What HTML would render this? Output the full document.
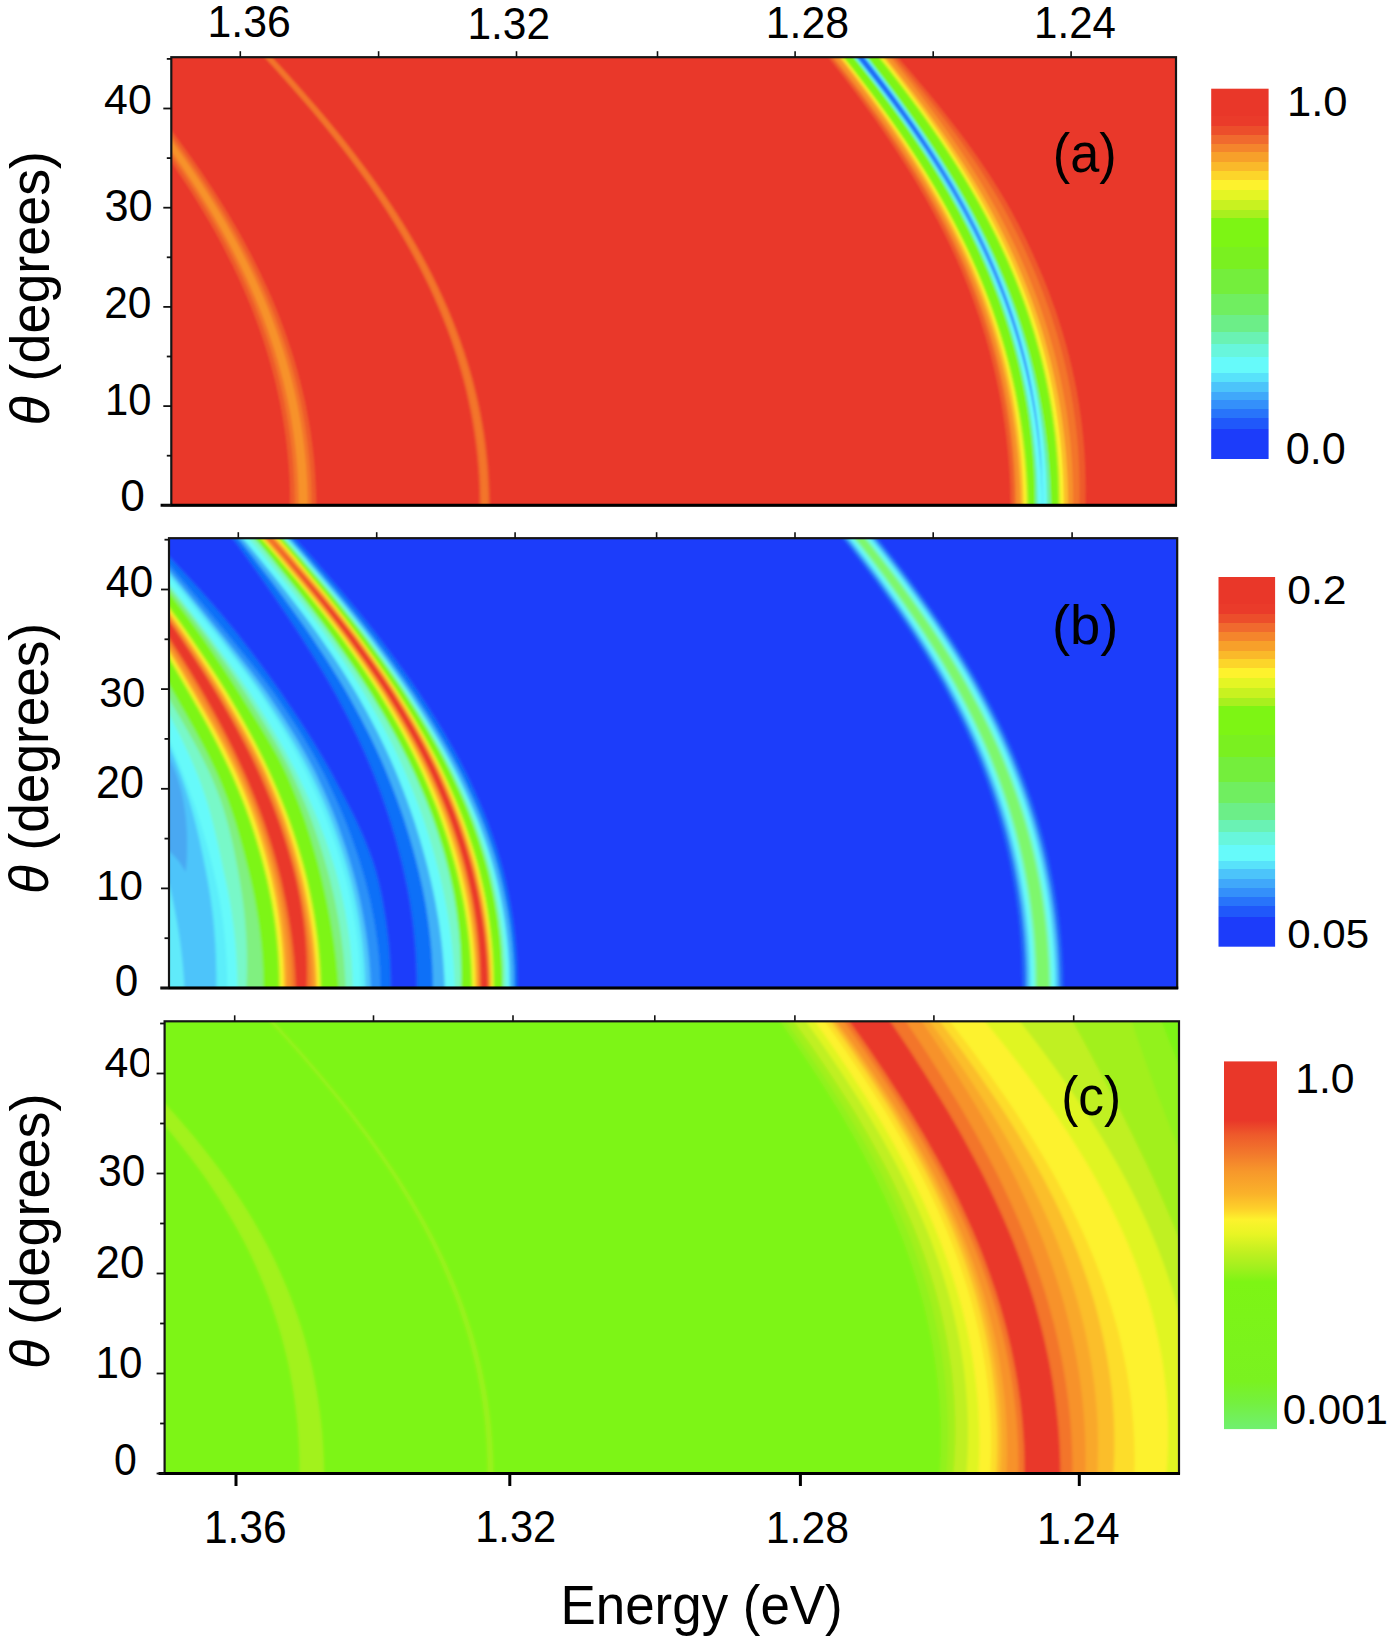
<!DOCTYPE html>
<html><head><meta charset="utf-8"><title>Figure</title><style>html,body{margin:0;padding:0;background:#fff;}svg{display:block;}</style></head><body>
<svg width="1395" height="1645" viewBox="0 0 1395 1645">
<defs><filter id="bl" x="-2%" y="-2%" width="104%" height="104%"><feGaussianBlur stdDeviation="1.2"/></filter><filter id="bl2" x="-2%" y="-2%" width="104%" height="104%"><feGaussianBlur stdDeviation="1.6"/></filter><linearGradient id="cba" x1="0" y1="0" x2="0" y2="1"><stop offset="0.000" stop-color="#E93729"/><stop offset="0.074" stop-color="#E93729"/><stop offset="0.074" stop-color="#EA3B2A"/><stop offset="0.101" stop-color="#EA3B2A"/><stop offset="0.101" stop-color="#EC4E2B"/><stop offset="0.124" stop-color="#EC4E2B"/><stop offset="0.124" stop-color="#F06A2E"/><stop offset="0.148" stop-color="#F06A2E"/><stop offset="0.148" stop-color="#F4852C"/><stop offset="0.172" stop-color="#F4852C"/><stop offset="0.172" stop-color="#F7A02A"/><stop offset="0.199" stop-color="#F7A02A"/><stop offset="0.199" stop-color="#FAB92A"/><stop offset="0.222" stop-color="#FAB92A"/><stop offset="0.222" stop-color="#FCD52A"/><stop offset="0.246" stop-color="#FCD52A"/><stop offset="0.246" stop-color="#FDF22D"/><stop offset="0.273" stop-color="#FDF22D"/><stop offset="0.273" stop-color="#E4F524"/><stop offset="0.300" stop-color="#E4F524"/><stop offset="0.300" stop-color="#C8F220"/><stop offset="0.327" stop-color="#C8F220"/><stop offset="0.327" stop-color="#A8F01E"/><stop offset="0.350" stop-color="#A8F01E"/><stop offset="0.350" stop-color="#7DF514"/><stop offset="0.428" stop-color="#7DF514"/><stop offset="0.428" stop-color="#7AF020"/><stop offset="0.488" stop-color="#7AF020"/><stop offset="0.488" stop-color="#74EE3C"/><stop offset="0.555" stop-color="#74EE3C"/><stop offset="0.555" stop-color="#70EE60"/><stop offset="0.610" stop-color="#70EE60"/><stop offset="0.610" stop-color="#6CEE88"/><stop offset="0.658" stop-color="#6CEE88"/><stop offset="0.658" stop-color="#6AF2B4"/><stop offset="0.690" stop-color="#6AF2B4"/><stop offset="0.690" stop-color="#68F6DC"/><stop offset="0.724" stop-color="#68F6DC"/><stop offset="0.724" stop-color="#66FAFA"/><stop offset="0.767" stop-color="#66FAFA"/><stop offset="0.767" stop-color="#58E2FA"/><stop offset="0.791" stop-color="#58E2FA"/><stop offset="0.791" stop-color="#4CC4FA"/><stop offset="0.818" stop-color="#4CC4FA"/><stop offset="0.818" stop-color="#40A8FA"/><stop offset="0.842" stop-color="#40A8FA"/><stop offset="0.842" stop-color="#3490FA"/><stop offset="0.865" stop-color="#3490FA"/><stop offset="0.865" stop-color="#2874FA"/><stop offset="0.889" stop-color="#2874FA"/><stop offset="0.889" stop-color="#2058FA"/><stop offset="0.919" stop-color="#2058FA"/><stop offset="0.919" stop-color="#1C3CFA"/><stop offset="1.000" stop-color="#1C3CFA"/></linearGradient><linearGradient id="cbb" x1="0" y1="0" x2="0" y2="1"><stop offset="0.000" stop-color="#E93729"/><stop offset="0.074" stop-color="#E93729"/><stop offset="0.074" stop-color="#EA3B2A"/><stop offset="0.101" stop-color="#EA3B2A"/><stop offset="0.101" stop-color="#EC4E2B"/><stop offset="0.124" stop-color="#EC4E2B"/><stop offset="0.124" stop-color="#F06A2E"/><stop offset="0.148" stop-color="#F06A2E"/><stop offset="0.148" stop-color="#F4852C"/><stop offset="0.172" stop-color="#F4852C"/><stop offset="0.172" stop-color="#F7A02A"/><stop offset="0.199" stop-color="#F7A02A"/><stop offset="0.199" stop-color="#FAB92A"/><stop offset="0.222" stop-color="#FAB92A"/><stop offset="0.222" stop-color="#FCD52A"/><stop offset="0.246" stop-color="#FCD52A"/><stop offset="0.246" stop-color="#FDF22D"/><stop offset="0.273" stop-color="#FDF22D"/><stop offset="0.273" stop-color="#E4F524"/><stop offset="0.300" stop-color="#E4F524"/><stop offset="0.300" stop-color="#C8F220"/><stop offset="0.327" stop-color="#C8F220"/><stop offset="0.327" stop-color="#A8F01E"/><stop offset="0.350" stop-color="#A8F01E"/><stop offset="0.350" stop-color="#7DF514"/><stop offset="0.428" stop-color="#7DF514"/><stop offset="0.428" stop-color="#7AF020"/><stop offset="0.488" stop-color="#7AF020"/><stop offset="0.488" stop-color="#74EE3C"/><stop offset="0.555" stop-color="#74EE3C"/><stop offset="0.555" stop-color="#70EE60"/><stop offset="0.610" stop-color="#70EE60"/><stop offset="0.610" stop-color="#6CEE88"/><stop offset="0.658" stop-color="#6CEE88"/><stop offset="0.658" stop-color="#6AF2B4"/><stop offset="0.690" stop-color="#6AF2B4"/><stop offset="0.690" stop-color="#68F6DC"/><stop offset="0.724" stop-color="#68F6DC"/><stop offset="0.724" stop-color="#66FAFA"/><stop offset="0.767" stop-color="#66FAFA"/><stop offset="0.767" stop-color="#58E2FA"/><stop offset="0.791" stop-color="#58E2FA"/><stop offset="0.791" stop-color="#4CC4FA"/><stop offset="0.818" stop-color="#4CC4FA"/><stop offset="0.818" stop-color="#40A8FA"/><stop offset="0.842" stop-color="#40A8FA"/><stop offset="0.842" stop-color="#3490FA"/><stop offset="0.865" stop-color="#3490FA"/><stop offset="0.865" stop-color="#2874FA"/><stop offset="0.889" stop-color="#2874FA"/><stop offset="0.889" stop-color="#2058FA"/><stop offset="0.919" stop-color="#2058FA"/><stop offset="0.919" stop-color="#1C3CFA"/><stop offset="1.000" stop-color="#1C3CFA"/></linearGradient><linearGradient id="cbc" x1="0" y1="0" x2="0" y2="1"><stop offset="0.000" stop-color="#E93729"/><stop offset="0.160" stop-color="#E93729"/><stop offset="0.200" stop-color="#EE5A2B"/><stop offset="0.250" stop-color="#F2782C"/><stop offset="0.300" stop-color="#F7982B"/><stop offset="0.360" stop-color="#FAB22A"/><stop offset="0.400" stop-color="#FDD02A"/><stop offset="0.430" stop-color="#FDF22D"/><stop offset="0.470" stop-color="#E8F524"/><stop offset="0.520" stop-color="#C0F020"/><stop offset="0.560" stop-color="#A2F01E"/><stop offset="0.600" stop-color="#7DF514"/><stop offset="0.870" stop-color="#7AF220"/><stop offset="0.930" stop-color="#74F040"/><stop offset="1.000" stop-color="#70F070"/></linearGradient><clipPath id="c40"><rect x="90" y="1030" width="59" height="60"/></clipPath></defs>
<rect width="1395" height="1645" fill="#fff"/>
<clipPath id="pa"><rect x="171.3" y="57.2" width="1004.7" height="448.1"/></clipPath>
<g clip-path="url(#pa)"><g filter="url(#bl)">
<rect x="151.3" y="37.2" width="1044.7" height="488.1" fill="#E93729"/>
<path d="M80.3,45.2 89.2,55.7 97.9,66.2 106.6,76.7 115.1,87.2 123.5,97.7 131.7,108.1 139.8,118.6 147.7,129.1 155.4,139.6 163,150.1 170.4,160.6 177.5,171.1 184.5,181.6 191.3,192.1 197.9,202.6 204.2,213.1 210.4,223.5 216.3,234 222,244.5 227.4,255 232.7,265.5 237.7,276 242.5,286.5 247,297 251.4,307.5 255.4,318 259.3,328.5 262.9,339 266.3,349.4 269.5,359.9 272.4,370.4 275.1,380.9 277.6,391.4 279.9,401.9 281.9,412.4 283.7,422.9 285.3,433.4 286.7,443.9 287.8,454.4 288.7,464.8 289.4,475.3 289.9,485.8 290.1,496.3 290.2,506.8 290,517.3 316.1,517.3 316.2,506.8 316.1,496.3 315.7,485.8 315.1,475.3 314.4,464.8 313.4,454.4 312.1,443.9 310.7,433.4 309,422.9 307.1,412.4 305,401.9 302.6,391.4 300,380.9 297.2,370.4 294.2,359.9 290.9,349.4 287.4,339 283.7,328.5 279.8,318 275.6,307.5 271.2,297 266.5,286.5 261.6,276 256.5,265.5 251.2,255 245.6,244.5 239.9,234 233.8,223.5 227.6,213.1 221.2,202.6 214.5,192.1 207.6,181.6 200.6,171.1 193.3,160.6 185.8,150.1 178.2,139.6 170.3,129.1 162.3,118.6 154.1,108.1 145.8,97.7 137.4,87.2 128.7,76.7 120,66.2 111.2,55.7 102.2,45.2Z" fill="#EE5A2B"/>
<path d="M84.3,45.2 93.2,55.7 101.9,66.2 110.6,76.7 119.1,87.2 127.5,97.7 135.7,108.1 143.8,118.6 151.8,129.1 159.5,139.6 167.1,150.1 174.5,160.6 181.7,171.1 188.7,181.6 195.4,192.1 202,202.6 208.4,213.1 214.5,223.5 220.5,234 226.2,244.5 231.7,255 236.9,265.5 241.9,276 246.7,286.5 251.3,297 255.6,307.5 259.7,318 263.6,328.5 267.2,339 270.7,349.4 273.8,359.9 276.8,370.4 279.5,380.9 282,391.4 284.3,401.9 286.3,412.4 288.1,422.9 289.7,433.4 291.1,443.9 292.3,454.4 293.2,464.8 293.9,475.3 294.4,485.8 294.6,496.3 294.7,506.8 294.5,517.3 311.6,517.3 311.7,506.8 311.6,496.3 311.2,485.8 310.7,475.3 309.9,464.8 308.9,454.4 307.7,443.9 306.2,433.4 304.6,422.9 302.7,412.4 300.6,401.9 298.2,391.4 295.7,380.9 292.9,370.4 289.9,359.9 286.6,349.4 283.1,339 279.4,328.5 275.5,318 271.3,307.5 266.9,297 262.3,286.5 257.4,276 252.3,265.5 247,255 241.4,244.5 235.7,234 229.7,223.5 223.4,213.1 217,202.6 210.4,192.1 203.5,181.6 196.4,171.1 189.2,160.6 181.7,150.1 174.1,139.6 166.2,129.1 158.2,118.6 150.1,108.1 141.8,97.7 133.3,87.2 124.7,76.7 116,66.2 107.2,55.7 98.2,45.2Z" fill="#F3752C"/>
<path d="M87.5,45.2 96.4,55.7 105.2,66.2 113.8,76.7 122.4,87.2 130.8,97.7 139,108.1 147.1,118.6 155.1,129.1 162.9,139.6 170.5,150.1 177.9,160.6 185.1,171.1 192.1,181.6 198.9,192.1 205.5,202.6 211.9,213.1 218,223.5 224,234 229.7,244.5 235.2,255 240.5,265.5 245.5,276 250.3,286.5 254.9,297 259.3,307.5 263.4,318 267.3,328.5 270.9,339 274.4,349.4 277.6,359.9 280.5,370.4 283.3,380.9 285.8,391.4 288.1,401.9 290.2,412.4 292,422.9 293.6,433.4 295,443.9 296.2,454.4 297.1,464.8 297.8,475.3 298.3,485.8 298.6,496.3 298.7,506.8 298.5,517.3 307.6,517.3 307.7,506.8 307.6,496.3 307.3,485.8 306.7,475.3 306,464.8 305,454.4 303.8,443.9 302.4,433.4 300.7,422.9 298.9,412.4 296.8,401.9 294.4,391.4 291.9,380.9 289.1,370.4 286.1,359.9 282.9,349.4 279.4,339 275.7,328.5 271.8,318 267.7,307.5 263.3,297 258.7,286.5 253.8,276 248.7,265.5 243.4,255 237.9,244.5 232.1,234 226.2,223.5 220,213.1 213.5,202.6 206.9,192.1 200.1,181.6 193,171.1 185.8,160.6 178.3,150.1 170.7,139.6 162.9,129.1 154.9,118.6 146.8,108.1 138.5,97.7 130.1,87.2 121.5,76.7 112.8,66.2 104,55.7 95.1,45.2Z" fill="#F7922B"/>
<path d="M252.8,45.2 262.5,55.7 272.1,66.2 281.5,76.7 290.8,87.2 300,97.7 308.9,108.1 317.7,118.6 326.3,129.1 334.7,139.6 342.9,150.1 350.9,160.6 358.6,171.1 366.2,181.6 373.5,192.1 380.6,202.6 387.4,213.1 394,223.5 400.4,234 406.5,244.5 412.3,255 417.9,265.5 423.3,276 428.4,286.5 433.2,297 437.8,307.5 442.2,318 446.3,328.5 450.2,339 453.8,349.4 457.1,359.9 460.2,370.4 463.1,380.9 465.8,391.4 468.1,401.9 470.3,412.4 472.2,422.9 473.9,433.4 475.3,443.9 476.6,454.4 477.5,464.8 478.3,475.3 478.8,485.8 479.1,496.3 479.2,506.8 479,517.3 490,517.3 490.2,506.8 490.1,496.3 489.7,485.8 489.2,475.3 488.4,464.8 487.3,454.4 486.1,443.9 484.6,433.4 482.8,422.9 480.9,412.4 478.7,401.9 476.2,391.4 473.6,380.9 470.6,370.4 467.5,359.9 464.1,349.4 460.4,339 456.5,328.5 452.4,318 448,307.5 443.3,297 438.4,286.5 433.3,276 427.9,265.5 422.2,255 416.3,244.5 410.1,234 403.7,223.5 397.1,213.1 390.2,202.6 383.1,192.1 375.7,181.6 368.2,171.1 360.3,160.6 352.3,150.1 344.1,139.6 335.6,129.1 327,118.6 318.1,108.1 309.1,97.7 300,87.2 290.6,76.7 281.1,66.2 271.5,55.7 261.8,45.2Z" fill="#EE5A2B"/>
<path d="M254.3,45.2 264,55.7 273.6,66.2 283.1,76.7 292.4,87.2 301.5,97.7 310.5,108.1 319.3,118.6 327.9,129.1 336.3,139.6 344.5,150.1 352.5,160.6 360.3,171.1 367.8,181.6 375.1,192.1 382.2,202.6 389.1,213.1 395.7,223.5 402.1,234 408.2,244.5 414,255 419.7,265.5 425,276 430.1,286.5 435,297 439.6,307.5 444,318 448.1,328.5 452,339 455.6,349.4 459,359.9 462.1,370.4 465,380.9 467.6,391.4 470,401.9 472.2,412.4 474.1,422.9 475.8,433.4 477.3,443.9 478.5,454.4 479.5,464.8 480.3,475.3 480.8,485.8 481.1,496.3 481.2,506.8 481,517.3 488,517.3 488.2,506.8 488.1,496.3 487.7,485.8 487.2,475.3 486.4,464.8 485.4,454.4 484.1,443.9 482.7,433.4 480.9,422.9 479,412.4 476.8,401.9 474.4,391.4 471.7,380.9 468.8,370.4 465.6,359.9 462.2,349.4 458.6,339 454.7,328.5 450.6,318 446.2,307.5 441.5,297 436.7,286.5 431.5,276 426.1,265.5 420.5,255 414.6,244.5 408.4,234 402.1,223.5 395.4,213.1 388.6,202.6 381.4,192.1 374.1,181.6 366.5,171.1 358.7,160.6 350.7,150.1 342.5,139.6 334,129.1 325.4,118.6 316.6,108.1 307.6,97.7 298.4,87.2 289.1,76.7 279.6,66.2 270,55.7 260.3,45.2Z" fill="#F3752C"/>
<path d="M818.8,45.2 825.3,53.2 831.6,61.2 837.9,69.2 844.1,77.2 850.2,85.2 856.2,93.2 862.1,101.2 867.9,109.2 873.7,117.2 879.3,125.2 884.8,133.2 890.2,141.2 895.5,149.2 900.7,157.2 905.8,165.2 910.8,173.2 915.7,181.2 920.4,189.2 925,197.2 929.5,205.2 933.9,213.2 938.1,221.2 942.2,229.2 946.2,237.2 950.1,245.2 953.9,253.2 957.5,261.2 961,269.2 964.3,277.2 967.6,285.3 970.7,293.3 973.7,301.3 976.5,309.3 979.3,317.3 981.9,325.3 984.4,333.3 986.8,341.3 989.1,349.3 991.2,357.3 993.2,365.3 995.1,373.3 996.9,381.3 998.6,389.3 1000.2,397.3 1001.7,405.3 1003,413.3 1004.2,421.3 1005.4,429.3 1006.4,437.3 1007.3,445.3 1008.1,453.3 1008.8,461.3 1009.4,469.3 1009.9,477.3 1010.3,485.3 1010.5,493.3 1010.7,501.3 1010.8,509.3 1010.6,517.3 1085.1,517.3 1085.3,509.3 1085.4,501.3 1085.5,493.3 1085.5,485.3 1085.4,477.3 1085.2,469.3 1084.8,461.3 1084.4,453.3 1083.8,445.3 1083.1,437.3 1082.2,429.3 1081.3,421.3 1080.2,413.3 1079,405.3 1077.7,397.3 1076.3,389.3 1074.7,381.3 1073,373.3 1071.2,365.3 1069.3,357.3 1067.2,349.3 1065,341.3 1062.7,333.3 1060.2,325.3 1057.7,317.3 1055,309.3 1052.1,301.3 1049.2,293.3 1046.1,285.3 1042.9,277.2 1039.5,269.2 1036,261.2 1032.4,253.2 1028.7,245.2 1024.8,237.2 1020.8,229.2 1016.7,221.2 1012.4,213.2 1007.9,205.2 1003.3,197.2 998.4,189.2 993.4,181.2 988.3,173.2 982.9,165.2 977.4,157.2 971.8,149.2 966,141.2 960,133.2 953.9,125.2 947.7,117.2 941.4,109.2 935,101.2 928.4,93.2 921.7,85.2 915,77.2 908.2,69.2 901.2,61.2 894.6,53.2 888.1,45.2Z" fill="#EE5A2B"/>
<path d="M821.8,45.2 828.3,53.2 834.6,61.2 840.9,69.2 847.2,77.2 853.3,85.2 859.4,93.2 865.3,101.2 871.2,109.2 877,117.2 882.7,125.2 888.2,133.2 893.7,141.2 899,149.2 904.2,157.2 909.3,165.2 914.3,173.2 919.2,181.2 924,189.2 928.6,197.2 933.1,205.2 937.5,213.2 941.7,221.2 945.8,229.2 949.8,237.2 953.7,245.2 957.5,253.2 961.1,261.2 964.6,269.2 967.9,277.2 971.2,285.3 974.3,293.3 977.3,301.3 980.2,309.3 982.9,317.3 985.5,325.3 988.1,333.3 990.4,341.3 992.7,349.3 994.9,357.3 996.9,365.3 998.8,373.3 1000.6,381.3 1002.3,389.3 1003.8,397.3 1005.3,405.3 1006.6,413.3 1007.9,421.3 1009,429.3 1010,437.3 1010.9,445.3 1011.7,453.3 1012.4,461.3 1013,469.3 1013.4,477.3 1013.8,485.3 1014.1,493.3 1014.2,501.3 1014.3,509.3 1014.1,517.3 1079.1,517.3 1079.3,509.3 1079.4,501.3 1079.5,493.3 1079.5,485.3 1079.4,477.3 1079.2,469.3 1078.8,461.3 1078.4,453.3 1077.8,445.3 1077.1,437.3 1076.2,429.3 1075.3,421.3 1074.2,413.3 1073,405.3 1071.7,397.3 1070.3,389.3 1068.7,381.3 1067,373.3 1065.2,365.3 1063.3,357.3 1061.2,349.3 1059,341.3 1056.7,333.3 1054.2,325.3 1051.7,317.3 1049,309.3 1046.1,301.3 1043.2,293.3 1040.1,285.3 1036.9,277.2 1033.5,269.2 1030,261.2 1026.4,253.2 1022.7,245.2 1018.8,237.2 1014.8,229.2 1010.7,221.2 1006.4,213.2 1002,205.2 997.4,197.2 992.6,189.2 987.6,181.2 982.5,173.2 977.3,165.2 971.9,157.2 966.3,149.2 960.7,141.2 954.8,133.2 948.9,125.2 942.8,117.2 936.6,109.2 930.3,101.2 923.9,93.2 917.4,85.2 910.8,77.2 904.1,69.2 897.4,61.2 890.8,53.2 884.3,45.2Z" fill="#F3752C"/>
<path d="M824.3,45.2 830.8,53.2 837.1,61.2 843.4,69.2 849.7,77.2 855.8,85.2 861.9,93.2 867.8,101.2 873.7,109.2 879.5,117.2 885.2,125.2 890.7,133.2 896.2,141.2 901.5,149.2 906.7,157.2 911.8,165.2 916.8,173.2 921.7,181.2 926.5,189.2 931.1,197.2 935.6,205.2 940,213.2 944.2,221.2 948.3,229.2 952.3,237.2 956.2,245.2 959.9,253.2 963.6,261.2 967.1,269.2 970.4,277.2 973.7,285.3 976.8,293.3 979.8,301.3 982.6,309.3 985.4,317.3 988,325.3 990.5,333.3 992.8,341.3 995.1,349.3 997.2,357.3 999.2,365.3 1001.1,373.3 1002.9,381.3 1004.6,389.3 1006.1,397.3 1007.6,405.3 1008.9,413.3 1010.1,421.3 1011.2,429.3 1012.2,437.3 1013.1,445.3 1013.9,453.3 1014.5,461.3 1015.1,469.3 1015.5,477.3 1015.9,485.3 1016.1,493.3 1016.2,501.3 1016.3,509.3 1016.1,517.3 1072.9,517.3 1073.1,509.3 1073.1,501.3 1073.1,493.3 1073,485.3 1072.7,477.3 1072.4,469.3 1071.9,461.3 1071.3,453.3 1070.7,445.3 1069.9,437.3 1068.9,429.3 1067.9,421.3 1066.8,413.3 1065.5,405.3 1064.1,397.3 1062.6,389.3 1061,381.3 1059.3,373.3 1057.4,365.3 1055.5,357.3 1053.4,349.3 1051.1,341.3 1048.8,333.3 1046.3,325.3 1043.7,317.3 1041,309.3 1038.2,301.3 1035.2,293.3 1032.1,285.3 1028.9,277.2 1025.5,269.2 1022,261.2 1018.4,253.2 1014.7,245.2 1010.8,237.2 1006.8,229.2 1002.7,221.2 998.5,213.2 994.1,205.2 989.5,197.2 984.9,189.2 980.1,181.2 975.1,173.2 970.1,165.2 964.9,157.2 959.6,149.2 954.1,141.2 948.6,133.2 942.9,125.2 937.1,117.2 931.2,109.2 925.2,101.2 919.2,93.2 913,85.2 906.7,77.2 900.3,69.2 893.9,61.2 887.5,53.2 881,45.2Z" fill="#F7922B"/>
<path d="M829.3,45.2 835.8,53.2 842.1,61.2 848.3,69.2 854.4,77.2 860.4,85.2 866.4,93.2 872.2,101.2 878,109.2 883.7,117.2 889.3,125.2 894.7,133.2 900.1,141.2 905.4,149.2 910.5,157.2 915.6,165.2 920.5,173.2 925.3,181.2 930,189.2 934.6,197.2 939.1,205.2 943.5,213.2 947.7,221.2 951.8,229.2 955.8,237.2 959.7,245.2 963.4,253.2 967.1,261.2 970.6,269.2 973.9,277.2 977.2,285.3 980.3,293.3 983.3,301.3 986.1,309.3 988.9,317.3 991.5,325.3 994,333.3 996.4,341.3 998.6,349.3 1000.8,357.3 1002.8,365.3 1004.7,373.3 1006.6,381.3 1008.2,389.3 1009.8,397.3 1011.3,405.3 1012.7,413.3 1013.9,421.3 1015.1,429.3 1016.1,437.3 1017,445.3 1017.9,453.3 1018.6,461.3 1019.2,469.3 1019.7,477.3 1020.2,485.3 1020.5,493.3 1020.7,501.3 1020.8,509.3 1020.6,517.3 1067.9,517.3 1068.1,509.3 1068.1,501.3 1068,493.3 1067.8,485.3 1067.5,477.3 1067,469.3 1066.5,461.3 1065.9,453.3 1065.1,445.3 1064.3,437.3 1063.3,429.3 1062.3,421.3 1061.1,413.3 1059.8,405.3 1058.4,397.3 1056.8,389.3 1055.2,381.3 1053.4,373.3 1051.6,365.3 1049.6,357.3 1047.4,349.3 1045.2,341.3 1042.9,333.3 1040.4,325.3 1037.8,317.3 1035,309.3 1032.2,301.3 1029.2,293.3 1026.1,285.3 1022.9,277.2 1019.5,269.2 1016.1,261.2 1012.4,253.2 1008.7,245.2 1004.8,237.2 1000.8,229.2 996.7,221.2 992.5,213.2 988.1,205.2 983.6,197.2 978.9,189.2 974.1,181.2 969.2,173.2 964.2,165.2 959,157.2 953.7,149.2 948.4,141.2 942.8,133.2 937.2,125.2 931.5,117.2 925.7,109.2 919.7,101.2 913.7,93.2 907.6,85.2 901.3,77.2 895,69.2 888.7,61.2 882.3,53.2 875.8,45.2Z" fill="#FBBE2A"/>
<path d="M831.8,45.2 838.3,53.2 844.6,61.2 850.8,69.2 857,77.2 863,85.2 869,93.2 874.9,101.2 880.7,109.2 886.4,117.2 892,125.2 897.6,133.2 903,141.2 908.2,149.2 913.4,157.2 918.5,165.2 923.5,173.2 928.3,181.2 933,189.2 937.6,197.2 942.1,205.2 946.5,213.2 950.7,221.2 954.8,229.2 958.8,237.2 962.7,245.2 966.5,253.2 970.1,261.2 973.6,269.2 976.9,277.2 980.2,285.3 983.3,293.3 986.3,301.3 989.2,309.3 991.9,317.3 994.5,325.3 997,333.3 999.4,341.3 1001.7,349.3 1003.8,357.3 1005.9,365.3 1007.8,373.3 1009.6,381.3 1011.3,389.3 1012.9,397.3 1014.3,405.3 1015.7,413.3 1016.9,421.3 1018.1,429.3 1019.1,437.3 1020,445.3 1020.9,453.3 1021.6,461.3 1022.2,469.3 1022.7,477.3 1023.1,485.3 1023.4,493.3 1023.6,501.3 1023.7,509.3 1023.5,517.3 1063.6,517.3 1063.8,509.3 1063.8,501.3 1063.6,493.3 1063.4,485.3 1063.1,477.3 1062.7,469.3 1062.1,461.3 1061.5,453.3 1060.7,445.3 1059.9,437.3 1058.9,429.3 1057.8,421.3 1056.6,413.3 1055.3,405.3 1053.9,397.3 1052.4,389.3 1050.7,381.3 1049,373.3 1047.1,365.3 1045.1,357.3 1043,349.3 1040.7,341.3 1038.4,333.3 1035.9,325.3 1033.3,317.3 1030.6,309.3 1027.7,301.3 1024.7,293.3 1021.6,285.3 1018.4,277.2 1015,269.2 1011.6,261.2 1007.9,253.2 1004.2,245.2 1000.3,237.2 996.3,229.2 992.2,221.2 988,213.2 983.6,205.2 979.1,197.2 974.5,189.2 969.8,181.2 964.9,173.2 960,165.2 954.9,157.2 949.7,149.2 944.4,141.2 939,133.2 933.5,125.2 927.9,117.2 922.2,109.2 916.3,101.2 910.4,93.2 904.4,85.2 898.3,77.2 892.2,69.2 885.9,61.2 879.6,53.2 873.1,45.2Z" fill="#FDF22D"/>
<path d="M833.3,45.2 839.8,53.2 846.1,61.2 852.4,69.2 858.5,77.2 864.6,85.2 870.7,93.2 876.6,101.2 882.4,109.2 888.2,117.2 893.8,125.2 899.3,133.2 904.8,141.2 910.1,149.2 915.3,157.2 920.4,165.2 925.4,173.2 930.2,181.2 935,189.2 939.6,197.2 944.1,205.2 948.5,213.2 952.7,221.2 956.8,229.2 960.8,237.2 964.7,245.2 968.5,253.2 972.1,261.2 975.6,269.2 979,277.2 982.2,285.3 985.4,293.3 988.4,301.3 991.3,309.3 994,317.3 996.7,325.3 999.2,333.3 1001.6,341.3 1003.9,349.3 1006.1,357.3 1008.2,365.3 1010.1,373.3 1012,381.3 1013.7,389.3 1015.3,397.3 1016.8,405.3 1018.2,413.3 1019.5,421.3 1020.6,429.3 1021.7,437.3 1022.6,445.3 1023.5,453.3 1024.2,461.3 1024.9,469.3 1025.4,477.3 1025.8,485.3 1026.2,493.3 1026.4,501.3 1026.5,509.3 1026.3,517.3 1060.1,517.3 1060.3,509.3 1060.3,501.3 1060.2,493.3 1060,485.3 1059.7,477.3 1059.3,469.3 1058.7,461.3 1058.1,453.3 1057.4,445.3 1056.6,437.3 1055.6,429.3 1054.5,421.3 1053.4,413.3 1052.1,405.3 1050.7,397.3 1049.2,389.3 1047.6,381.3 1045.8,373.3 1044,365.3 1042,357.3 1039.9,349.3 1037.7,341.3 1035.4,333.3 1032.9,325.3 1030.4,317.3 1027.7,309.3 1024.9,301.3 1021.9,293.3 1018.8,285.3 1015.7,277.2 1012.3,269.2 1008.9,261.2 1005.3,253.2 1001.6,245.2 997.8,237.2 993.8,229.2 989.7,221.2 985.5,213.2 981.2,205.2 976.7,197.2 972.1,189.2 967.4,181.2 962.6,173.2 957.6,165.2 952.6,157.2 947.4,149.2 942.1,141.2 936.7,133.2 931.2,125.2 925.6,117.2 919.9,109.2 914,101.2 908.1,93.2 902.1,85.2 896,77.2 889.9,69.2 883.6,61.2 877.3,53.2 870.8,45.2Z" fill="#C0F020"/>
<path d="M834.8,45.2 841.3,53.2 847.6,61.2 853.9,69.2 860,77.2 866.1,85.2 872.1,93.2 878.1,101.2 883.9,109.2 889.6,117.2 895.3,125.2 900.8,133.2 906.3,141.2 911.6,149.2 916.8,157.2 921.9,165.2 926.9,173.2 931.7,181.2 936.5,189.2 941.1,197.2 945.6,205.2 950,213.2 954.2,221.2 958.3,229.2 962.3,237.2 966.2,245.2 970,253.2 973.6,261.2 977.1,269.2 980.5,277.2 983.8,285.3 986.9,293.3 990,301.3 992.9,309.3 995.6,317.3 998.3,325.3 1000.9,333.3 1003.3,341.3 1005.6,349.3 1007.8,357.3 1009.9,365.3 1011.9,373.3 1013.7,381.3 1015.5,389.3 1017.1,397.3 1018.6,405.3 1020,413.3 1021.3,421.3 1022.5,429.3 1023.6,437.3 1024.6,445.3 1025.5,453.3 1026.3,461.3 1026.9,469.3 1027.5,477.3 1028,485.3 1028.3,493.3 1028.6,501.3 1028.7,509.3 1028.5,517.3 1057.9,517.3 1058.1,509.3 1058.1,501.3 1058,493.3 1057.8,485.3 1057.6,477.3 1057.2,469.3 1056.7,461.3 1056.1,453.3 1055.4,445.3 1054.6,437.3 1053.6,429.3 1052.6,421.3 1051.4,413.3 1050.2,405.3 1048.8,397.3 1047.3,389.3 1045.7,381.3 1044,373.3 1042.1,365.3 1040.2,357.3 1038.1,349.3 1035.9,341.3 1033.6,333.3 1031.1,325.3 1028.6,317.3 1025.9,309.3 1023.1,301.3 1020.1,293.3 1017.1,285.3 1013.9,277.2 1010.5,269.2 1007.1,261.2 1003.5,253.2 999.8,245.2 996,237.2 992,229.2 987.9,221.2 983.7,213.2 979.4,205.2 974.9,197.2 970.3,189.2 965.6,181.2 960.7,173.2 955.8,165.2 950.7,157.2 945.5,149.2 940.2,141.2 934.8,133.2 929.2,125.2 923.6,117.2 917.8,109.2 912,101.2 906.1,93.2 900,85.2 893.9,77.2 887.7,69.2 881.4,61.2 875.1,53.2 868.6,45.2Z" fill="#7DF514"/>
<path d="M843.7,45.2 850.2,53.2 856.6,61.2 862.9,69.2 869.2,77.2 875.4,85.2 881.4,93.2 887.4,101.2 893.4,109.2 899.2,117.2 904.9,125.2 910.4,133.2 915.9,141.2 921.3,149.2 926.5,157.2 931.7,165.2 936.7,173.2 941.6,181.2 946.3,189.2 951,197.2 955.5,205.2 959.9,213.2 964.1,221.2 968.2,229.2 972.2,237.2 976.1,245.2 979.8,253.2 983.4,261.2 986.9,269.2 990.3,277.2 993.5,285.3 996.6,293.3 999.6,301.3 1002.4,309.3 1005.1,317.3 1007.7,325.3 1010.2,333.3 1012.6,341.3 1014.8,349.3 1016.9,357.3 1018.9,365.3 1020.7,373.3 1022.5,381.3 1024.1,389.3 1025.6,397.3 1027,405.3 1028.3,413.3 1029.5,421.3 1030.5,429.3 1031.5,437.3 1032.3,445.3 1033,453.3 1033.7,461.3 1034.2,469.3 1034.5,477.3 1034.8,485.3 1035,493.3 1035.1,501.3 1035.1,509.3 1034.9,517.3 1050.7,517.3 1050.9,509.3 1050.8,501.3 1050.6,493.3 1050.2,485.3 1049.8,477.3 1049.3,469.3 1048.6,461.3 1047.9,453.3 1047,445.3 1046,437.3 1045,429.3 1043.8,421.3 1042.5,413.3 1041.1,405.3 1039.6,397.3 1038,389.3 1036.3,381.3 1034.5,373.3 1032.5,365.3 1030.5,357.3 1028.3,349.3 1026,341.3 1023.6,333.3 1021.1,325.3 1018.4,317.3 1015.7,309.3 1012.8,301.3 1009.8,293.3 1006.6,285.3 1003.4,277.2 1000,269.2 996.5,261.2 992.9,253.2 989.1,245.2 985.2,237.2 981.2,229.2 977.1,221.2 972.9,213.2 968.5,205.2 964,197.2 959.4,189.2 954.7,181.2 949.8,173.2 944.8,165.2 939.8,157.2 934.6,149.2 929.3,141.2 923.9,133.2 918.3,125.2 912.7,117.2 907,109.2 901.2,101.2 895.3,93.2 889.3,85.2 883.2,77.2 877,69.2 870.8,61.2 864.5,53.2 858,45.2Z" fill="#6CF0A8"/>
<path d="M845,45.2 851.5,53.2 857.9,61.2 864.3,69.2 870.6,77.2 876.8,85.2 882.9,93.2 889,101.2 894.9,109.2 900.8,117.2 906.5,125.2 912.2,133.2 917.7,141.2 923.1,149.2 928.4,157.2 933.5,165.2 938.6,173.2 943.5,181.2 948.3,189.2 952.9,197.2 957.5,205.2 961.9,213.2 966.1,221.2 970.2,229.2 974.2,237.2 978.1,245.2 981.8,253.2 985.5,261.2 988.9,269.2 992.3,277.2 995.5,285.3 998.6,293.3 1001.6,301.3 1004.5,309.3 1007.2,317.3 1009.8,325.3 1012.3,333.3 1014.6,341.3 1016.9,349.3 1019,357.3 1021,365.3 1022.9,373.3 1024.6,381.3 1026.3,389.3 1027.8,397.3 1029.2,405.3 1030.5,413.3 1031.7,421.3 1032.8,429.3 1033.8,437.3 1034.6,445.3 1035.4,453.3 1036,461.3 1036.6,469.3 1037,477.3 1037.3,485.3 1037.5,493.3 1037.7,501.3 1037.7,509.3 1037.5,517.3 1046.7,517.3 1046.9,509.3 1046.9,501.3 1046.7,493.3 1046.5,485.3 1046.2,477.3 1045.8,469.3 1045.2,461.3 1044.6,453.3 1043.8,445.3 1043,437.3 1042,429.3 1040.9,421.3 1039.7,413.3 1038.4,405.3 1037,397.3 1035.5,389.3 1033.8,381.3 1032.1,373.3 1030.2,365.3 1028.2,357.3 1026.1,349.3 1023.8,341.3 1021.5,333.3 1019,325.3 1016.4,317.3 1013.7,309.3 1010.8,301.3 1007.8,293.3 1004.7,285.3 1001.5,277.2 998.1,269.2 994.7,261.2 991,253.2 987.3,245.2 983.4,237.2 979.4,229.2 975.3,221.2 971.1,213.2 966.7,205.2 962.2,197.2 957.6,189.2 952.9,181.2 948.1,173.2 943.2,165.2 938.1,157.2 932.9,149.2 927.7,141.2 922.3,133.2 916.8,125.2 911.2,117.2 905.5,109.2 899.7,101.2 893.8,93.2 887.8,85.2 881.8,77.2 875.6,69.2 869.4,61.2 863.1,53.2 856.6,45.2Z" fill="#66FAFA"/>
<path d="M846.4,45.2 852.9,53.2 859.3,61.2 865.6,69.2 871.9,77.2 878.1,85.2 884.3,93.2 890.3,101.2 896.2,109.2 902.1,117.2 907.8,125.2 913.4,133.2 918.9,141.2 924.4,149.2 929.6,157.2 934.8,165.2 939.9,173.2 944.8,181.2 949.7,189.2 954.4,197.2 958.9,205.2 963.4,213.2 967.7,221.2 971.9,229.2 976,237.2 979.9,245.2 983.7,253.2 987.4,261.2 991,269.2 994.4,277.2 997.7,285.3 1000.9,293.3 1004,301.3 1006.9,309.3 1009.7,317.3 1012.4,325.3 1014.9,333.3 1017.4,341.3 1019.7,349.3 1021.9,357.3 1024,365.3 1026,373.3 1027.8,381.3 1029.6,389.3 1031.2,397.3 1032.7,405.3 1034.1,413.3 1035.4,421.3 1036.5,429.3 1037.6,437.3 1038.5,445.3 1039.4,453.3 1040.1,461.3 1040.8,469.3 1041.3,477.3 1041.7,485.3 1042,493.3 1042.2,501.3 1042.3,509.3 1042.1,517.3 1042.1,517.3 1042.3,509.3 1042.3,501.3 1042.3,493.3 1042.2,485.3 1041.9,477.3 1041.6,469.3 1041.2,461.3 1040.6,453.3 1039.9,445.3 1039.2,437.3 1038.3,429.3 1037.3,421.3 1036.2,413.3 1035,405.3 1033.6,397.3 1032.2,389.3 1030.6,381.3 1029,373.3 1027.2,365.3 1025.3,357.3 1023.2,349.3 1021.1,341.3 1018.8,333.3 1016.4,325.3 1013.9,317.3 1011.2,309.3 1008.4,301.3 1005.5,293.3 1002.5,285.3 999.4,277.2 996.1,269.2 992.7,261.2 989.2,253.2 985.5,245.2 981.7,237.2 977.8,229.2 973.7,221.2 969.6,213.2 965.3,205.2 960.8,197.2 956.3,189.2 951.6,181.2 946.8,173.2 941.9,165.2 936.8,157.2 931.7,149.2 926.4,141.2 921,133.2 915.5,125.2 909.9,117.2 904.2,109.2 898.4,101.2 892.5,93.2 886.5,85.2 880.4,77.2 874.3,69.2 868,61.2 861.7,53.2 855.2,45.2Z" fill="#48B8F8"/>
<path d="M847.2,45.2 853.7,53.2 860.1,61.2 866.6,69.2 872.9,77.2 879.2,85.2 885.4,93.2 891.5,101.2 897.5,109.2 903.5,117.2 909.3,125.2 914.9,133.2 920.5,141.2 926,149.2 931.3,157.2 936.5,165.2 941.6,173.2 946.6,181.2 951.5,189.2 956.2,197.2 960.7,205.2 965.2,213.2 969.5,221.2 973.7,229.2 977.7,237.2 981.7,245.2 985.4,253.2 989.1,261.2 992.6,269.2 996.1,277.2 999.3,285.3 1002.5,293.3 1005.5,301.3 1008.4,309.3 1011.2,317.3 1013.8,325.3 1016.4,333.3 1018.8,341.3 1021,349.3 1023.2,357.3 1025.2,365.3 1027.1,373.3 1028.9,381.3 1030.6,389.3 1032.2,397.3 1033.6,405.3 1035,413.3 1036.2,421.3 1037.3,429.3 1038.3,437.3 1039.2,445.3 1039.9,453.3 1040.6,461.3 1041.2,469.3 1041.6,477.3 1041.9,485.3 1042.1,493.3 1042.2,501.3 1042.3,509.3 1042.1,517.3 1042.1,517.3 1042.3,509.3 1042.3,501.3 1042.1,493.3 1041.9,485.3 1041.6,477.3 1041.2,469.3 1040.7,461.3 1040.1,453.3 1039.3,445.3 1038.5,437.3 1037.5,429.3 1036.5,421.3 1035.3,413.3 1034,405.3 1032.6,397.3 1031.1,389.3 1029.5,381.3 1027.8,373.3 1025.9,365.3 1024,357.3 1021.9,349.3 1019.7,341.3 1017.4,333.3 1014.9,325.3 1012.4,317.3 1009.7,309.3 1006.9,301.3 1004,293.3 1000.9,285.3 997.7,277.2 994.4,269.2 991,261.2 987.4,253.2 983.7,245.2 979.9,237.2 976,229.2 971.9,221.2 967.7,213.2 963.4,205.2 959,197.2 954.5,189.2 949.8,181.2 945,173.2 940.1,165.2 935.1,157.2 930,149.2 924.8,141.2 919.5,133.2 914.1,125.2 908.5,117.2 902.9,109.2 897.2,101.2 891.3,93.2 885.4,85.2 879.4,77.2 873.3,69.2 867.2,61.2 860.9,53.2 854.4,45.2Z" fill="#2A88F8"/>
<path d="M848.5,45.2 855,53.2 861.4,61.2 867.9,69.2 874.3,77.2 880.6,85.2 886.8,93.2 892.9,101.2 898.9,109.2 904.8,117.2 910.6,125.2 916.3,133.2 921.9,141.2 927.4,149.2 932.7,157.2 938,165.2 943,173.2 948,181.2 952.8,189.2 957.5,197.2 962,205.2 966.5,213.2 970.7,221.2 974.8,229.2 978.8,237.2 982.7,245.2 986.4,253.2 990.1,261.2 993.5,269.2 996.9,277.2 1000.1,285.3 1003.2,293.3 1006.2,301.3 1009.1,309.3 1011.8,317.3 1014.4,325.3 1016.9,333.3 1019.2,341.3 1021.5,349.3 1023.6,357.3 1025.6,365.3 1027.5,373.3 1029.2,381.3 1030.9,389.3 1032.4,397.3 1033.8,405.3 1035.1,413.3 1036.3,421.3 1037.4,429.3 1038.4,437.3 1039.2,445.3 1040,453.3 1040.6,461.3 1041.2,469.3 1041.6,477.3 1041.9,485.3 1042.1,493.3 1042.3,501.3 1042.3,509.3 1042.1,517.3 1042.1,517.3 1042.3,509.3 1042.3,501.3 1042.1,493.3 1041.9,485.3 1041.6,477.3 1041.2,469.3 1040.6,461.3 1040,453.3 1039.2,445.3 1038.4,437.3 1037.4,429.3 1036.3,421.3 1035.1,413.3 1033.8,405.3 1032.4,397.3 1030.9,389.3 1029.2,381.3 1027.5,373.3 1025.6,365.3 1023.6,357.3 1021.5,349.3 1019.2,341.3 1016.9,333.3 1014.4,325.3 1011.8,317.3 1009.1,309.3 1006.2,301.3 1003.2,293.3 1000.1,285.3 996.9,277.2 993.5,269.2 990.1,261.2 986.4,253.2 982.7,245.2 978.8,237.2 974.8,229.2 970.7,221.2 966.5,213.2 962.1,205.2 957.7,197.2 953.1,189.2 948.4,181.2 943.6,173.2 938.7,165.2 933.7,157.2 928.6,149.2 923.4,141.2 918.1,133.2 912.7,125.2 907.1,117.2 901.5,109.2 895.8,101.2 890,93.2 884.1,85.2 878.1,77.2 872,69.2 865.9,61.2 859.6,53.2 853.1,45.2Z" fill="#1F6AF5"/>
</g></g>
<clipPath id="pb"><rect x="169" y="538.2" width="1008.2" height="449.8"/></clipPath>
<g clip-path="url(#pb)"><g filter="url(#bl2)">
<rect x="149" y="518.2" width="1048.2" height="489.8" fill="#1C3CFA"/>
<path d="M-305.7,526.2 -299.6,534.2 -293.6,542.3 -287.6,550.3 -281.6,558.3 -275.7,566.4 -269.8,574.4 -263.9,582.4 -258.1,590.4 -252.4,598.5 -246.7,606.5 -241.1,614.5 -235.5,622.6 -230,630.6 -224.6,638.6 -219.3,646.7 -214.1,654.7 -208.9,662.7 -203.9,670.7 -198.9,678.8 -194,686.8 -189.2,694.8 -184.6,702.9 -180,710.9 -175.5,718.9 -171.2,727 -166.9,735 -162.8,743 -158.8,751.1 -154.9,759.1 -151.1,767.1 -147.4,775.1 -143.9,783.2 -140.5,791.2 -137.2,799.2 -134.1,807.3 -131,815.3 -128.1,823.3 -125.3,831.4 -122.7,839.4 -120.2,847.4 -117.8,855.5 -115.6,863.5 -113.5,871.5 -111.5,879.5 -109.7,887.6 -108,895.6 -106.5,903.6 -105.1,911.7 -103.8,919.7 -102.7,927.7 -101.7,935.8 -100.8,943.8 -100.1,951.8 -99.5,959.8 -99.1,967.9 -98.8,975.9 -98.7,983.9 -98.7,992 -98.8,1000 390.6,1000 390.7,992 390.7,983.9 390.6,975.9 390.3,967.9 389.9,959.8 389.4,951.8 388.7,943.8 387.8,935.8 386.8,927.7 385.7,919.7 384.4,911.7 383,903.6 381.5,895.6 379.8,887.6 378,879.5 375.9,871.5 373.5,863.5 370.7,855.5 367.7,847.4 364.5,839.4 361,831.4 357.3,823.3 353.5,815.3 349.4,807.3 345.3,799.2 341.1,791.2 336.8,783.2 332.4,775.1 328,767.1 323.4,759.1 318.6,751.1 313.8,743 308.8,735 303.7,727 298.5,718.9 293.2,710.9 287.7,702.9 282.2,694.8 276.6,686.8 270.9,678.8 265.1,670.7 259.2,662.7 253.2,654.7 247.1,646.7 240.8,638.6 234.5,630.6 227.9,622.6 221.3,614.5 214.5,606.5 207.5,598.5 200.4,590.4 193.1,582.4 185.8,574.4 178.3,566.4 170.7,558.3 163.1,550.3 155.3,542.3 148.4,534.2 142.3,526.2Z" fill="#1070F8"/>
<path d="M-305.7,526.2 -299.6,534.2 -293.6,542.3 -287.6,550.3 -281.6,558.3 -275.7,566.4 -269.8,574.4 -263.9,582.4 -258.1,590.4 -252.4,598.5 -246.7,606.5 -241.1,614.5 -235.5,622.6 -230,630.6 -224.6,638.6 -219.3,646.7 -214.1,654.7 -208.9,662.7 -203.9,670.7 -198.9,678.8 -194,686.8 -189.2,694.8 -184.6,702.9 -180,710.9 -175.5,718.9 -171.2,727 -166.9,735 -162.8,743 -158.8,751.1 -154.9,759.1 -151.1,767.1 -147.4,775.1 -143.9,783.2 -140.5,791.2 -137.2,799.2 -134.1,807.3 -131,815.3 -128.1,823.3 -125.3,831.4 -122.7,839.4 -120.2,847.4 -117.8,855.5 -115.6,863.5 -113.5,871.5 -111.5,879.5 -109.7,887.6 -108,895.6 -106.5,903.6 -105.1,911.7 -103.8,919.7 -102.7,927.7 -101.7,935.8 -100.8,943.8 -100.1,951.8 -99.5,959.8 -99.1,967.9 -98.8,975.9 -98.7,983.9 -98.7,992 -98.8,1000 380.6,1000 380.7,992 380.6,983.9 380.3,975.9 379.9,967.9 379.3,959.8 378.5,951.8 377.6,943.8 376.5,935.8 375.3,927.7 374,919.7 372.4,911.7 370.8,903.6 369,895.6 367,887.6 365,879.5 362.7,871.5 360.3,863.5 357.8,855.5 355.1,847.4 352.3,839.4 349.4,831.4 346.3,823.3 343,815.3 339.6,807.3 336,799.2 332.3,791.2 328.5,783.2 324.5,775.1 320.3,767.1 315.9,759.1 311.4,751.1 306.6,743 301.8,735 296.7,727 291.5,718.9 286.2,710.9 280.7,702.9 275.1,694.8 269.3,686.8 263.3,678.8 257.1,670.7 250.7,662.7 244.3,654.7 237.7,646.7 231.1,638.6 224.5,630.6 217.9,622.6 211.2,614.5 204.5,606.5 197.8,598.5 191,590.4 184.2,582.4 177.4,574.4 170.5,566.4 163.7,558.3 156.8,550.3 149.9,542.3 143.4,534.2 137.3,526.2Z" fill="#2A90F8"/>
<path d="M-305.7,526.2 -299.6,534.2 -293.6,542.3 -287.6,550.3 -281.6,558.3 -275.7,566.4 -269.8,574.4 -263.9,582.4 -258.1,590.4 -252.4,598.5 -246.7,606.5 -241.1,614.5 -235.5,622.6 -230,630.6 -224.6,638.6 -219.3,646.7 -214.1,654.7 -208.9,662.7 -203.9,670.7 -198.9,678.8 -194,686.8 -189.2,694.8 -184.6,702.9 -180,710.9 -175.5,718.9 -171.2,727 -166.9,735 -162.8,743 -158.8,751.1 -154.9,759.1 -151.1,767.1 -147.4,775.1 -143.9,783.2 -140.5,791.2 -137.2,799.2 -134.1,807.3 -131,815.3 -128.1,823.3 -125.3,831.4 -122.7,839.4 -120.2,847.4 -117.8,855.5 -115.6,863.5 -113.5,871.5 -111.5,879.5 -109.7,887.6 -108,895.6 -106.5,903.6 -105.1,911.7 -103.8,919.7 -102.7,927.7 -101.7,935.8 -100.8,943.8 -100.1,951.8 -99.5,959.8 -99.1,967.9 -98.8,975.9 -98.7,983.9 -98.7,992 -98.8,1000 370.6,1000 370.7,992 370.6,983.9 370.2,975.9 369.7,967.9 369.1,959.8 368.3,951.8 367.4,943.8 366.3,935.8 365.1,927.7 363.7,919.7 362.3,911.7 360.6,903.6 358.9,895.6 357,887.6 355,879.5 352.8,871.5 350.5,863.5 348.1,855.5 345.6,847.4 342.9,839.4 340.1,831.4 337.2,823.3 334.1,815.3 330.9,807.3 327.5,799.2 324,791.2 320.3,783.2 316.5,775.1 312.5,767.1 308.2,759.1 303.8,751.1 299.2,743 294.4,735 289.4,727 284.3,718.9 279.1,710.9 273.7,702.9 268.2,694.8 262.5,686.8 256.6,678.8 250.5,670.7 244.2,662.7 237.9,654.7 231.5,646.7 225,638.6 218.5,630.6 212,622.6 205.5,614.5 199,606.5 192.4,598.5 185.8,590.4 179.2,582.4 172.5,574.4 165.9,566.4 159.2,558.3 152.5,550.3 145.7,542.3 139.4,534.2 133.3,526.2Z" fill="#4EC4FA"/>
<path d="M48.3,526.2 54.4,534.2 60.1,542.3 65.5,550.3 70.8,558.3 76,566.4 81.1,574.4 86.2,582.4 91.1,590.4 96,598.5 100.8,606.5 105.5,614.5 110.1,622.6 114.5,630.6 118.6,638.6 122.7,646.7 126.6,654.7 130.4,662.7 134.1,670.7 137.9,678.8 141.6,686.8 145.3,694.8 149.1,702.9 153,710.9 156.7,718.9 160.5,727 164.1,735 167.7,743 171.1,751.1 174.5,759.1 177.6,767.1 180.7,775.1 183.5,783.2 186.2,791.2 188.7,799.2 191.1,807.3 193.4,815.3 195.5,823.3 197.5,831.4 199.4,839.4 201.1,847.4 202.8,855.5 204.4,863.5 206,871.5 207.5,879.5 208.9,887.6 210.2,895.6 211.3,903.6 212.4,911.7 213.3,919.7 214.1,927.7 214.7,935.8 215.3,943.8 215.7,951.8 216,959.8 216.2,967.9 216.4,975.9 216.4,983.9 216.3,992 216.2,1000 365.2,1000 365.3,992 365.3,983.9 365,975.9 364.6,967.9 364,959.8 363.3,951.8 362.5,943.8 361.5,935.8 360.3,927.7 359.1,919.7 357.6,911.7 356,903.6 354.3,895.6 352.5,887.6 350.5,879.5 348.3,871.5 346,863.5 343.6,855.5 341,847.4 338.3,839.4 335.5,831.4 332.5,823.3 329.4,815.3 326.1,807.3 322.7,799.2 319.1,791.2 315.4,783.2 311.5,775.1 307.4,767.1 303.1,759.1 298.7,751.1 294,743 289.2,735 284.3,727 279.2,718.9 274,710.9 268.7,702.9 263.2,694.8 257.7,686.8 251.9,678.8 246,670.7 240,662.7 233.9,654.7 227.7,646.7 221.5,638.6 215.2,630.6 208.8,622.6 202.5,614.5 196.1,606.5 189.6,598.5 183.1,590.4 176.5,582.4 169.9,574.4 163.3,566.4 156.6,558.3 150,550.3 143.2,542.3 136.9,534.2 130.8,526.2Z" fill="#5CEEFA"/>
<path d="M52.3,526.2 58.4,534.2 64.1,542.3 69.5,550.3 74.8,558.3 80,566.4 85.1,574.4 90.2,582.4 95.1,590.4 100,598.5 104.8,606.5 109.5,614.5 114.1,622.6 118.5,630.6 122.7,638.6 126.7,646.7 130.7,654.7 134.5,662.7 138.3,670.7 142,678.8 145.7,686.8 149.4,694.8 153.1,702.9 156.8,710.9 160.4,718.9 163.9,727 167.3,735 170.7,743 174,751.1 177.3,759.1 180.5,767.1 183.6,775.1 186.7,783.2 189.7,791.2 192.6,799.2 195.4,807.3 198,815.3 200.6,823.3 203,831.4 205.3,839.4 207.6,847.4 209.7,855.5 211.7,863.5 213.7,871.5 215.5,879.5 217.2,887.6 218.8,895.6 220.2,903.6 221.5,911.7 222.7,919.7 223.7,927.7 224.6,935.8 225.4,943.8 226,951.8 226.5,959.8 226.9,967.9 227.2,975.9 227.3,983.9 227.3,992 227.2,1000 360.6,1000 360.7,992 360.7,983.9 360.4,975.9 360,967.9 359.5,959.8 358.8,951.8 357.9,943.8 356.9,935.8 355.8,927.7 354.5,919.7 353.1,911.7 351.5,903.6 349.8,895.6 348,887.6 346,879.5 343.8,871.5 341.5,863.5 339.1,855.5 336.6,847.4 333.9,839.4 331,831.4 328,823.3 324.9,815.3 321.6,807.3 318.2,799.2 314.6,791.2 310.9,783.2 307.1,775.1 303.1,767.1 298.9,759.1 294.6,751.1 290.2,743 285.5,735 280.8,727 275.9,718.9 270.8,710.9 265.6,702.9 260.3,694.8 254.7,686.8 249,678.8 243.1,670.7 237,662.7 230.8,654.7 224.5,646.7 218.2,638.6 211.9,630.6 205.5,622.6 199.2,614.5 192.8,606.5 186.4,598.5 180,590.4 173.5,582.4 166.9,574.4 160.4,566.4 153.8,558.3 147.3,550.3 140.7,542.3 134.4,534.2 128.3,526.2Z" fill="#66FAFA"/>
<path d="M58.3,526.2 64.4,534.2 70.2,542.3 75.8,550.3 81.3,558.3 86.7,566.4 92,574.4 97.2,582.4 102.4,590.4 107.5,598.5 112.5,606.5 117.4,614.5 122.2,622.6 126.7,630.6 131.1,638.6 135.3,646.7 139.3,654.7 143.3,662.7 147.2,670.7 151.1,678.8 155.1,686.8 159.1,694.8 163.3,702.9 167.4,710.9 171.6,718.9 175.6,727 179.6,735 183.5,743 187.2,751.1 190.9,759.1 194.3,767.1 197.6,775.1 200.7,783.2 203.5,791.2 206.2,799.2 208.6,807.3 210.8,815.3 212.9,823.3 214.9,831.4 216.8,839.4 218.6,847.4 220.3,855.5 222,863.5 223.7,871.5 225.5,879.5 227.2,887.6 228.7,895.6 230.2,903.6 231.5,911.7 232.6,919.7 233.7,927.7 234.6,935.8 235.4,943.8 236,951.8 236.5,959.8 236.9,967.9 237.2,975.9 237.3,983.9 237.3,992 237.2,1000 352.6,1000 352.7,992 352.7,983.9 352.5,975.9 352.1,967.9 351.6,959.8 350.9,951.8 350.1,943.8 349.1,935.8 347.9,927.7 346.6,919.7 345.2,911.7 343.6,903.6 341.9,895.6 340,887.6 338,879.5 335.8,871.5 333.4,863.5 330.9,855.5 328.2,847.4 325.4,839.4 322.4,831.4 319.3,823.3 316,815.3 312.6,807.3 309.1,799.2 305.4,791.2 301.6,783.2 297.7,775.1 293.6,767.1 289.4,759.1 285.1,751.1 280.6,743 276,735 271.3,727 266.5,718.9 261.5,710.9 256.4,702.9 251.2,694.8 245.8,686.8 240.3,678.8 234.6,670.7 228.9,662.7 223,654.7 217.1,646.7 211.1,638.6 205,630.6 198.9,622.6 192.8,614.5 186.6,606.5 180.4,598.5 174.1,590.4 167.8,582.4 161.4,574.4 155,566.4 148.6,558.3 142.1,550.3 135.6,542.3 129.4,534.2 123.3,526.2Z" fill="#78F8C8"/>
<path d="M63.3,526.2 69.4,534.2 75.2,542.3 80.9,550.3 86.4,558.3 91.9,566.4 97.3,574.4 102.7,582.4 108,590.4 113.2,598.5 118.3,606.5 123.3,614.5 128.2,622.6 132.9,630.6 137.3,638.6 141.6,646.7 145.8,654.7 149.9,662.7 154,670.7 158.2,678.8 162.4,686.8 166.8,694.8 171.4,702.9 176.1,710.9 180.8,718.9 185.4,727 189.9,735 194.4,743 198.7,751.1 202.8,759.1 206.8,767.1 210.5,775.1 214,783.2 217.2,791.2 220.2,799.2 222.9,807.3 225.3,815.3 227.6,823.3 229.7,831.4 231.6,839.4 233.4,847.4 235,855.5 236.6,863.5 238.1,871.5 239.5,879.5 240.8,887.6 242,895.6 243.1,903.6 244.1,911.7 244.9,919.7 245.5,927.7 246.1,935.8 246.5,943.8 246.8,951.8 246.9,959.8 246.9,967.9 246.8,975.9 246.5,983.9 246.3,992 246.2,1000 345.6,1000 345.7,992 345.6,983.9 345.2,975.9 344.6,967.9 344,959.8 343.2,951.8 342.2,943.8 341.1,935.8 339.9,927.7 338.6,919.7 337.1,911.7 335.5,903.6 333.8,895.6 331.9,887.6 330,879.5 327.9,871.5 325.6,863.5 323.3,855.5 320.8,847.4 318.2,839.4 315.5,831.4 312.6,823.3 309.6,815.3 306.5,807.3 303.2,799.2 299.8,791.2 296.2,783.2 292.5,775.1 288.6,767.1 284.5,759.1 280.2,751.1 275.8,743 271.2,735 266.4,727 261.6,718.9 256.6,710.9 251.6,702.9 246.5,694.8 241.3,686.8 236,678.8 230.6,670.7 225.1,662.7 219.5,654.7 213.8,646.7 208,638.6 202.1,630.6 196.2,622.6 190.2,614.5 184,606.5 177.8,598.5 171.6,590.4 165.2,582.4 158.8,574.4 152.4,566.4 145.9,558.3 139.3,550.3 132.7,542.3 126.4,534.2 120.3,526.2Z" fill="#80F080"/>
<path d="M68.3,526.2 74.4,534.2 80.3,542.3 85.9,550.3 91.6,558.3 97.2,566.4 102.7,574.4 108.1,582.4 113.5,590.4 118.8,598.5 124.1,606.5 129.2,614.5 134.3,622.6 139.1,630.6 143.8,638.6 148.4,646.7 152.8,654.7 157.2,662.7 161.5,670.7 165.9,678.8 170.3,686.8 174.8,694.8 179.4,702.9 184.1,710.9 188.6,718.9 193.1,727 197.5,735 201.8,743 206,751.1 210,759.1 213.8,767.1 217.6,775.1 221.1,783.2 224.3,791.2 227.4,799.2 230.3,807.3 233,815.3 235.6,823.3 238,831.4 240.3,839.4 242.5,847.4 244.6,855.5 246.6,863.5 248.6,871.5 250.5,879.5 252.3,887.6 254,895.6 255.5,903.6 256.9,911.7 258.2,919.7 259.3,927.7 260.3,935.8 261.2,943.8 261.9,951.8 262.5,959.8 262.9,967.9 263.2,975.9 263.3,983.9 263.3,992 263.2,1000 338.6,1000 338.7,992 338.5,983.9 337.9,975.9 337.1,967.9 336.3,959.8 335.3,951.8 334.2,943.8 333,935.8 331.8,927.7 330.4,919.7 328.9,911.7 327.3,903.6 325.6,895.6 323.8,887.6 322,879.5 320,871.5 318,863.5 315.8,855.5 313.5,847.4 311.1,839.4 308.6,831.4 306,823.3 303.2,815.3 300.2,807.3 297.2,799.2 293.9,791.2 290.6,783.2 287,775.1 283.2,767.1 279.2,759.1 274.8,751.1 270.2,743 265.5,735 260.6,727 255.6,718.9 250.6,710.9 245.6,702.9 240.5,694.8 235.4,686.8 230.2,678.8 225,670.7 219.7,662.7 214.3,654.7 208.8,646.7 203.2,638.6 197.4,630.6 191.6,622.6 185.7,614.5 179.7,606.5 173.6,598.5 167.4,590.4 161.1,582.4 154.8,574.4 148.3,566.4 141.8,558.3 135.3,550.3 128.7,542.3 122.4,534.2 116.3,526.2Z" fill="#7DF514"/>
<path d="M78.3,526.2 84.4,534.2 90.3,542.3 96.2,550.3 102,558.3 107.8,566.4 113.5,574.4 119.1,582.4 124.7,590.4 130.2,598.5 135.7,606.5 141.1,614.5 146.4,622.6 151.5,630.6 156.6,638.6 161.5,646.7 166.4,654.7 171.1,662.7 175.8,670.7 180.5,678.8 185.1,686.8 189.8,694.8 194.4,702.9 199,710.9 203.5,718.9 207.8,727 212.1,735 216.2,743 220.2,751.1 224.1,759.1 227.9,767.1 231.6,775.1 235.1,783.2 238.5,791.2 241.7,799.2 244.8,807.3 247.7,815.3 250.5,823.3 253.2,831.4 255.7,839.4 258.1,847.4 260.4,855.5 262.5,863.5 264.6,871.5 266.5,879.5 268.2,887.6 269.9,895.6 271.4,903.6 272.8,911.7 274,919.7 275.1,927.7 276,935.8 276.8,943.8 277.5,951.8 278,959.8 278.4,967.9 278.7,975.9 278.8,983.9 278.8,992 278.7,1000 321.2,1000 321.3,992 321.3,983.9 321,975.9 320.6,967.9 320.1,959.8 319.4,951.8 318.7,943.8 317.7,935.8 316.6,927.7 315.4,919.7 314.1,911.7 312.6,903.6 311,895.6 309.3,887.6 307.5,879.5 305.5,871.5 303.4,863.5 301.1,855.5 298.7,847.4 296.2,839.4 293.6,831.4 290.8,823.3 287.9,815.3 284.8,807.3 281.6,799.2 278.3,791.2 274.9,783.2 271.3,775.1 267.6,767.1 263.8,759.1 259.8,751.1 255.8,743 251.5,735 247.2,727 242.7,718.9 238.2,710.9 233.5,702.9 228.7,694.8 223.7,686.8 218.7,678.8 213.5,670.7 208.2,662.7 202.8,654.7 197.4,646.7 191.8,638.6 186.2,630.6 180.6,622.6 174.8,614.5 169.1,606.5 163.2,598.5 157.3,590.4 151.4,582.4 145.4,574.4 139.3,566.4 133.2,558.3 127.1,550.3 121,542.3 114.9,534.2 108.8,526.2Z" fill="#C0F020"/>
<path d="M80.3,526.2 86.4,534.2 92.3,542.3 98.2,550.3 104,558.3 109.8,566.4 115.5,574.4 121.2,582.4 126.7,590.4 132.3,598.5 137.7,606.5 143.1,614.5 148.4,622.6 153.5,630.6 158.5,638.6 163.4,646.7 168.2,654.7 172.9,662.7 177.6,670.7 182.2,678.8 186.8,686.8 191.4,694.8 196,702.9 200.6,710.9 205,718.9 209.4,727 213.6,735 217.7,743 221.7,751.1 225.6,759.1 229.4,767.1 233.1,775.1 236.6,783.2 239.9,791.2 243.1,799.2 246.2,807.3 249.1,815.3 251.9,823.3 254.6,831.4 257.1,839.4 259.5,847.4 261.8,855.5 263.9,863.5 265.9,871.5 267.9,879.5 269.7,887.6 271.3,895.6 272.9,903.6 274.2,911.7 275.5,919.7 276.6,927.7 277.6,935.8 278.4,943.8 279.1,951.8 279.7,959.8 280.1,967.9 280.4,975.9 280.5,983.9 280.5,992 280.4,1000 319.6,1000 319.7,992 319.7,983.9 319.4,975.9 319.1,967.9 318.5,959.8 317.9,951.8 317.1,943.8 316.2,935.8 315.1,927.7 313.9,919.7 312.6,911.7 311.1,903.6 309.5,895.6 307.8,887.6 306,879.5 304,871.5 301.9,863.5 299.6,855.5 297.2,847.4 294.7,839.4 292.1,831.4 289.3,823.3 286.4,815.3 283.3,807.3 280.1,799.2 276.8,791.2 273.4,783.2 269.8,775.1 266.1,767.1 262.3,759.1 258.3,751.1 254.2,743 250,735 245.6,727 241.2,718.9 236.6,710.9 231.9,702.9 227.1,694.8 222.1,686.8 217.1,678.8 211.9,670.7 206.7,662.7 201.3,654.7 195.8,646.7 190.3,638.6 184.7,630.6 179.1,622.6 173.3,614.5 167.6,606.5 161.7,598.5 155.8,590.4 149.9,582.4 143.9,574.4 137.8,566.4 131.7,558.3 125.6,550.3 119.5,542.3 113.4,534.2 107.3,526.2Z" fill="#FDF22D"/>
<path d="M82.3,526.2 88.4,534.2 94.4,542.3 100.3,550.3 106.2,558.3 112,566.4 117.7,574.4 123.4,582.4 129.1,590.4 134.6,598.5 140.1,606.5 145.5,614.5 150.9,622.6 156.1,630.6 161.1,638.6 166.1,646.7 170.9,654.7 175.7,662.7 180.4,670.7 185,678.8 189.6,686.8 194.3,694.8 198.9,702.9 203.5,710.9 208,718.9 212.5,727 216.8,735 221,743 225.1,751.1 229,759.1 232.9,767.1 236.6,775.1 240.1,783.2 243.5,791.2 246.7,799.2 249.8,807.3 252.7,815.3 255.5,823.3 258.2,831.4 260.7,839.4 263.1,847.4 265.4,855.5 267.5,863.5 269.6,871.5 271.5,879.5 273.2,887.6 274.9,895.6 276.4,903.6 277.8,911.7 279,919.7 280.1,927.7 281,935.8 281.8,943.8 282.5,951.8 283,959.8 283.4,967.9 283.7,975.9 283.8,983.9 283.8,992 283.7,1000 317,1000 317.1,992 317,983.9 316.7,975.9 316.3,967.9 315.7,959.8 315,951.8 314.2,943.8 313.2,935.8 312.1,927.7 310.9,919.7 309.6,911.7 308.1,903.6 306.5,895.6 304.8,887.6 303,879.5 301,871.5 298.9,863.5 296.7,855.5 294.4,847.4 291.9,839.4 289.3,831.4 286.6,823.3 283.7,815.3 280.7,807.3 277.6,799.2 274.3,791.2 270.9,783.2 267.4,775.1 263.7,767.1 259.8,759.1 255.8,751.1 251.6,743 247.3,735 242.9,727 238.3,718.9 233.7,710.9 229,702.9 224.2,694.8 219.2,686.8 214.2,678.8 209.1,670.7 203.9,662.7 198.6,654.7 193.2,646.7 187.7,638.6 182.2,630.6 176.5,622.6 170.9,614.5 165.1,606.5 159.3,598.5 153.4,590.4 147.4,582.4 141.4,574.4 135.4,566.4 129.3,558.3 123.1,550.3 117,542.3 110.9,534.2 104.8,526.2Z" fill="#FBB02A"/>
<path d="M84.8,526.2 90.9,534.2 96.9,542.3 102.8,550.3 108.6,558.3 114.4,566.4 120.2,574.4 125.9,582.4 131.5,590.4 137.1,598.5 142.6,606.5 148,614.5 153.4,622.6 158.6,630.6 163.7,638.6 168.7,646.7 173.5,654.7 178.3,662.7 183.1,670.7 187.8,678.8 192.4,686.8 197.1,694.8 201.7,702.9 206.4,710.9 210.9,718.9 215.4,727 219.8,735 224.1,743 228.3,751.1 232.3,759.1 236.1,767.1 239.9,775.1 243.4,783.2 246.8,791.2 250,799.2 253.1,807.3 256.1,815.3 258.9,823.3 261.6,831.4 264.1,839.4 266.5,847.4 268.8,855.5 271,863.5 273,871.5 274.9,879.5 276.6,887.6 278.2,895.6 279.7,903.6 281.1,911.7 282.3,919.7 283.3,927.7 284.2,935.8 285,943.8 285.6,951.8 286.1,959.8 286.5,967.9 286.7,975.9 286.7,983.9 286.7,992 286.6,1000 314.6,1000 314.7,992 314.6,983.9 314.2,975.9 313.7,967.9 313.1,959.8 312.3,951.8 311.4,943.8 310.4,935.8 309.3,927.7 308,919.7 306.6,911.7 305.1,903.6 303.5,895.6 301.8,887.6 300,879.5 298,871.5 296,863.5 293.8,855.5 291.5,847.4 289.1,839.4 286.5,831.4 283.8,823.3 281,815.3 278.1,807.3 275,799.2 271.8,791.2 268.4,783.2 264.9,775.1 261.1,767.1 257.3,759.1 253.2,751.1 249,743 244.7,735 240.2,727 235.7,718.9 231,710.9 226.3,702.9 221.5,694.8 216.5,686.8 211.5,678.8 206.4,670.7 201.2,662.7 196,654.7 190.6,646.7 185.1,638.6 179.6,630.6 174,622.6 168.4,614.5 162.6,606.5 156.9,598.5 151,590.4 145.1,582.4 139.2,574.4 133.2,566.4 127.1,558.3 121.1,550.3 115,542.3 108.9,534.2 102.8,526.2Z" fill="#F7922B"/>
<path d="M87.3,526.2 93.4,534.2 99.4,542.3 105.3,550.3 111.2,558.3 117.1,566.4 122.9,574.4 128.6,582.4 134.3,590.4 139.9,598.5 145.5,606.5 151,614.5 156.4,622.6 161.8,630.6 167,638.6 172.2,646.7 177.2,654.7 182.2,662.7 187.1,670.7 191.9,678.8 196.6,686.8 201.3,694.8 205.9,702.9 210.4,710.9 214.8,718.9 219.1,727 223.3,735 227.4,743 231.4,751.1 235.2,759.1 238.9,767.1 242.6,775.1 246.1,783.2 249.4,791.2 252.7,799.2 255.8,807.3 258.7,815.3 261.6,823.3 264.3,831.4 266.9,839.4 269.4,847.4 271.7,855.5 273.9,863.5 276,871.5 278,879.5 279.8,887.6 281.5,895.6 283.1,903.6 284.5,911.7 285.9,919.7 287.1,927.7 288.1,935.8 289.1,943.8 289.9,951.8 290.5,959.8 291.1,967.9 291.5,975.9 291.7,983.9 291.8,992 291.7,1000 310.7,1000 310.8,992 310.8,983.9 310.7,975.9 310.4,967.9 310,959.8 309.4,951.8 308.7,943.8 307.8,935.8 306.8,927.7 305.7,919.7 304.4,911.7 303,903.6 301.5,895.6 299.8,887.6 298,879.5 296,871.5 293.9,863.5 291.7,855.5 289.3,847.4 286.9,839.4 284.2,831.4 281.5,823.3 278.6,815.3 275.6,807.3 272.5,799.2 269.2,791.2 265.8,783.2 262.3,775.1 258.6,767.1 254.7,759.1 250.7,751.1 246.5,743 242.2,735 237.8,727 233.3,718.9 228.7,710.9 224,702.9 219.2,694.8 214.3,686.8 209.3,678.8 204.3,670.7 199.1,662.7 193.8,654.7 188.5,646.7 183.1,638.6 177.6,630.6 172,622.6 166.4,614.5 160.7,606.5 154.9,598.5 149,590.4 143.1,582.4 137.2,574.4 131.2,566.4 125.2,558.3 119.1,550.3 113,542.3 106.9,534.2 100.8,526.2Z" fill="#F3752C"/>
<path d="M89.8,526.2 95.9,534.2 101.9,542.3 107.8,550.3 113.7,558.3 119.5,566.4 125.3,574.4 131.1,582.4 136.8,590.4 142.4,598.5 148,606.5 153.5,614.5 158.9,622.6 164.3,630.6 169.6,638.6 174.8,646.7 180,654.7 185,662.7 190,670.7 194.8,678.8 199.6,686.8 204.3,694.8 208.9,702.9 213.4,710.9 217.8,718.9 222,727 226.2,735 230.2,743 234.2,751.1 238,759.1 241.7,767.1 245.4,775.1 248.9,783.2 252.2,791.2 255.5,799.2 258.6,807.3 261.6,815.3 264.5,823.3 267.2,831.4 269.8,839.4 272.3,847.4 274.7,855.5 276.9,863.5 279,871.5 281,879.5 282.8,887.6 284.5,895.6 286.2,903.6 287.7,911.7 289.1,919.7 290.3,927.7 291.5,935.8 292.5,943.8 293.4,951.8 294.2,959.8 294.8,967.9 295.3,975.9 295.7,983.9 295.8,992 295.7,1000 306.7,1000 306.8,992 306.9,983.9 307,975.9 307,967.9 306.7,959.8 306.4,951.8 305.9,943.8 305.2,935.8 304.4,927.7 303.4,919.7 302.2,911.7 300.9,903.6 299.4,895.6 297.8,887.6 296,879.5 294,871.5 291.9,863.5 289.6,855.5 287.3,847.4 284.7,839.4 282.1,831.4 279.3,823.3 276.3,815.3 273.3,807.3 270.1,799.2 266.8,791.2 263.3,783.2 259.7,775.1 256,767.1 252.2,759.1 248.2,751.1 244.1,743 239.9,735 235.6,727 231.2,718.9 226.6,710.9 222,702.9 217.2,694.8 212.3,686.8 207.4,678.8 202.3,670.7 197.1,662.7 191.9,654.7 186.5,646.7 181.1,638.6 175.6,630.6 170,622.6 164.4,614.5 158.7,606.5 152.9,598.5 147,590.4 141.1,582.4 135.2,574.4 129.2,566.4 123.2,558.3 117.1,550.3 111,542.3 104.9,534.2 98.8,526.2Z" fill="#E93729"/>
<path d="M160,990 L184.5,990 C183,955 177,915 169,884 L160,884 Z" fill="#60EAFA"/>
<path d="M160,760 L169,758 C178,775 186,800 187,835 C187.5,855 186.5,866 185.5,872 C180,862 173,852 160,846 Z" fill="#48A8F2"/>
<path d="M222.2,526.2 229.3,534.2 235.8,542.3 241.7,550.3 247.5,558.3 253.3,566.4 259,574.4 264.6,582.4 270.1,590.4 275.7,598.5 281.1,606.5 286.5,614.5 291.8,622.6 297.1,630.6 302.3,638.6 307.4,646.7 312.5,654.7 317.4,662.7 322.3,670.7 327,678.8 331.6,686.8 336.1,694.8 340.4,702.9 344.7,710.9 348.8,718.9 352.7,727 356.6,735 360.3,743 364,751.1 367.4,759.1 370.8,767.1 374.1,775.1 377.2,783.2 380.2,791.2 383.1,799.2 385.8,807.3 388.5,815.3 391,823.3 393.4,831.4 395.8,839.4 397.9,847.4 400,855.5 402,863.5 403.9,871.5 405.6,879.5 407.3,887.6 408.8,895.6 410.2,903.6 411.4,911.7 412.5,919.7 413.5,927.7 414.3,935.8 415,943.8 415.6,951.8 416.1,959.8 416.4,967.9 416.7,975.9 416.8,983.9 416.8,992 416.7,1000 517.2,1000 517.3,992 517.3,983.9 517.3,975.9 517.1,967.9 516.8,959.8 516.3,951.8 515.6,943.8 514.8,935.8 513.9,927.7 512.8,919.7 511.5,911.7 510.1,903.6 508.6,895.6 506.9,887.6 505.1,879.5 503.2,871.5 501,863.5 498.7,855.5 496.3,847.4 493.6,839.4 490.8,831.4 487.9,823.3 484.8,815.3 481.5,807.3 478.1,799.2 474.5,791.2 470.8,783.2 466.9,775.1 462.8,767.1 458.6,759.1 454.3,751.1 449.8,743 445.2,735 440.4,727 435.5,718.9 430.5,710.9 425.3,702.9 420,694.8 414.6,686.8 409.1,678.8 403.4,670.7 397.6,662.7 391.7,654.7 385.7,646.7 379.6,638.6 373.4,630.6 367,622.6 360.6,614.5 354,606.5 347.3,598.5 340.6,590.4 333.7,582.4 326.8,574.4 319.8,566.4 312.7,558.3 305.5,550.3 298.2,542.3 291,534.2 283.9,526.2Z" fill="#1070F8"/>
<path d="M227.3,526.2 234.4,534.2 241.2,542.3 247.5,550.3 253.8,558.3 260,566.4 266.2,574.4 272.3,582.4 278.3,590.4 284.2,598.5 290,606.5 295.8,614.5 301.5,622.6 307.1,630.6 312.6,638.6 318,646.7 323.3,654.7 328.5,662.7 333.5,670.7 338.5,678.8 343.3,686.8 348,694.8 352.5,702.9 356.9,710.9 361.2,718.9 365.3,727 369.4,735 373.3,743 377,751.1 380.7,759.1 384.2,767.1 387.5,775.1 390.8,783.2 393.9,791.2 396.9,799.2 399.8,807.3 402.6,815.3 405.2,823.3 407.8,831.4 410.2,839.4 412.5,847.4 414.7,855.5 416.8,863.5 418.8,871.5 420.6,879.5 422.4,887.6 424,895.6 425.5,903.6 426.8,911.7 428,919.7 429.1,927.7 430,935.8 430.8,943.8 431.5,951.8 432,959.8 432.4,967.9 432.7,975.9 432.8,983.9 432.8,992 432.7,1000 514.2,1000 514.3,992 514.3,983.9 514.1,975.9 513.9,967.9 513.4,959.8 512.8,951.8 512.1,943.8 511.2,935.8 510.2,927.7 509.1,919.7 507.8,911.7 506.3,903.6 504.7,895.6 503,887.6 501.1,879.5 499.1,871.5 496.9,863.5 494.5,855.5 492,847.4 489.2,839.4 486.4,831.4 483.3,823.3 480.1,815.3 476.7,807.3 473.2,799.2 469.5,791.2 465.7,783.2 461.7,775.1 457.6,767.1 453.3,759.1 448.9,751.1 444.3,743 439.6,735 434.8,727 429.9,718.9 424.8,710.9 419.6,702.9 414.2,694.8 408.8,686.8 403.3,678.8 397.6,670.7 391.9,662.7 386,654.7 380.1,646.7 374,638.6 367.8,630.6 361.6,622.6 355.2,614.5 348.7,606.5 342.1,598.5 335.5,590.4 328.7,582.4 321.9,574.4 315,566.4 308,558.3 301,550.3 293.9,542.3 286.7,534.2 279.6,526.2Z" fill="#40B0F8"/>
<path d="M231.9,526.2 239,534.2 246,542.3 252.7,550.3 259.3,558.3 265.9,566.4 272.4,574.4 278.8,582.4 285.1,590.4 291.3,598.5 297.4,606.5 303.5,614.5 309.4,622.6 315.2,630.6 320.9,638.6 326.5,646.7 332,654.7 337.3,662.7 342.5,670.7 347.5,678.8 352.4,686.8 357.2,694.8 361.8,702.9 366.3,710.9 370.6,718.9 374.8,727 378.9,735 382.8,743 386.6,751.1 390.3,759.1 393.8,767.1 397.2,775.1 400.5,783.2 403.6,791.2 406.6,799.2 409.5,807.3 412.3,815.3 415,823.3 417.5,831.4 420,839.4 422.3,847.4 424.5,855.5 426.7,863.5 428.7,871.5 430.6,879.5 432.4,887.6 434.1,895.6 435.7,903.6 437.1,911.7 438.5,919.7 439.7,927.7 440.7,935.8 441.7,943.8 442.5,951.8 443.2,959.8 443.8,967.9 444.3,975.9 444.7,983.9 444.8,992 444.7,1000 509.7,1000 509.8,992 509.8,983.9 509.6,975.9 509.4,967.9 508.9,959.8 508.3,951.8 507.6,943.8 506.7,935.8 505.7,927.7 504.6,919.7 503.3,911.7 501.8,903.6 500.2,895.6 498.5,887.6 496.6,879.5 494.6,871.5 492.4,863.5 490,855.5 487.5,847.4 484.8,839.4 481.9,831.4 478.9,823.3 475.7,815.3 472.3,807.3 468.8,799.2 465.2,791.2 461.4,783.2 457.4,775.1 453.3,767.1 449.1,759.1 444.7,751.1 440.2,743 435.5,735 430.7,727 425.8,718.9 420.8,710.9 415.6,702.9 410.4,694.8 405,686.8 399.5,678.8 393.9,670.7 388.2,662.7 382.4,654.7 376.5,646.7 370.5,638.6 364.4,630.6 358.1,622.6 351.8,614.5 345.4,606.5 338.9,598.5 332.2,590.4 325.5,582.4 318.8,574.4 311.9,566.4 305,558.3 298,550.3 290.9,542.3 283.8,534.2 276.7,526.2Z" fill="#66FAFA"/>
<path d="M237.9,526.2 245,534.2 252,542.3 258.8,550.3 265.5,558.3 272.2,566.4 278.7,574.4 285.2,582.4 291.6,590.4 297.9,598.5 304.1,606.5 310.3,614.5 316.3,622.6 322.2,630.6 328,638.6 333.6,646.7 339.2,654.7 344.6,662.7 349.9,670.7 355.1,678.8 360.1,686.8 365,694.8 369.7,702.9 374.3,710.9 378.8,718.9 383.1,727 387.3,735 391.4,743 395.3,751.1 399.1,759.1 402.7,767.1 406.3,775.1 409.7,783.2 412.9,791.2 416,799.2 419,807.3 421.9,815.3 424.7,823.3 427.3,831.4 429.8,839.4 432.2,847.4 434.5,855.5 436.6,863.5 438.7,871.5 440.6,879.5 442.5,887.6 444.1,895.6 445.7,903.6 447.2,911.7 448.5,919.7 449.7,927.7 450.8,935.8 451.7,943.8 452.6,951.8 453.3,959.8 453.9,967.9 454.3,975.9 454.7,983.9 454.8,992 454.7,1000 506.2,1000 506.3,992 506.3,983.9 506.2,975.9 505.9,967.9 505.5,959.8 504.9,951.8 504.2,943.8 503.4,935.8 502.4,927.7 501.3,919.7 500,911.7 498.6,903.6 497.1,895.6 495.4,887.6 493.6,879.5 491.7,871.5 489.5,863.5 487.2,855.5 484.7,847.4 482.1,839.4 479.2,831.4 476.3,823.3 473.1,815.3 469.8,807.3 466.4,799.2 462.8,791.2 459,783.2 455.1,775.1 451,767.1 446.8,759.1 442.5,751.1 438,743 433.3,735 428.6,727 423.7,718.9 418.7,710.9 413.5,702.9 408.3,694.8 402.9,686.8 397.4,678.8 391.8,670.7 386.1,662.7 380.3,654.7 374.4,646.7 368.4,638.6 362.2,630.6 356,622.6 349.7,614.5 343.2,606.5 336.7,598.5 330.1,590.4 323.4,582.4 316.6,574.4 309.7,566.4 302.7,558.3 295.7,550.3 288.6,542.3 281.5,534.2 274.4,526.2Z" fill="#78F8C8"/>
<path d="M243.9,526.2 251,534.2 258,542.3 264.7,550.3 271.3,558.3 277.9,566.4 284.4,574.4 290.8,582.4 297.2,590.4 303.4,598.5 309.6,606.5 315.7,614.5 321.8,622.6 327.7,630.6 333.5,638.6 339.3,646.7 345,654.7 350.5,662.7 356,670.7 361.3,678.8 366.5,686.8 371.6,694.8 376.5,702.9 381.4,710.9 386.1,718.9 390.6,727 395.1,735 399.4,743 403.5,751.1 407.6,759.1 411.4,767.1 415.2,775.1 418.8,783.2 422.2,791.2 425.6,799.2 428.7,807.3 431.8,815.3 434.6,823.3 437.4,831.4 439.9,839.4 442.4,847.4 444.7,855.5 446.8,863.5 448.8,871.5 450.6,879.5 452.3,887.6 453.9,895.6 455.2,903.6 456.5,911.7 457.5,919.7 458.5,927.7 459.3,935.8 459.9,943.8 460.4,951.8 460.7,959.8 460.9,967.9 461,975.9 460.9,983.9 460.8,992 460.7,1000 502.7,1000 502.8,992 502.8,983.9 502.8,975.9 502.6,967.9 502.2,959.8 501.7,951.8 501.1,943.8 500.3,935.8 499.3,927.7 498.3,919.7 497,911.7 495.6,903.6 494.1,895.6 492.4,887.6 490.6,879.5 488.7,871.5 486.5,863.5 484.2,855.5 481.7,847.4 479.1,839.4 476.3,831.4 473.4,823.3 470.2,815.3 467,807.3 463.6,799.2 460,791.2 456.2,783.2 452.4,775.1 448.3,767.1 444.2,759.1 439.9,751.1 435.4,743 430.8,735 426.1,727 421.2,718.9 416.3,710.9 411.1,702.9 405.9,694.8 400.6,686.8 395.1,678.8 389.5,670.7 383.9,662.7 378.1,654.7 372.2,646.7 366.2,638.6 360.1,630.6 353.9,622.6 347.5,614.5 341.1,606.5 334.6,598.5 328,590.4 321.3,582.4 314.5,574.4 307.6,566.4 300.7,558.3 293.7,550.3 286.6,542.3 279.5,534.2 272.4,526.2Z" fill="#7DF514"/>
<path d="M249.9,526.2 257,534.2 264.1,542.3 271,550.3 277.9,558.3 284.6,566.4 291.4,574.4 298,582.4 304.5,590.4 311,598.5 317.3,606.5 323.6,614.5 329.7,622.6 335.7,630.6 341.7,638.6 347.5,646.7 353.2,654.7 358.7,662.7 364.2,670.7 369.5,678.8 374.7,686.8 379.7,694.8 384.6,702.9 389.4,710.9 394,718.9 398.5,727 402.9,735 407.1,743 411.2,751.1 415.1,759.1 418.9,767.1 422.6,775.1 426.2,783.2 429.6,791.2 432.8,799.2 435.9,807.3 438.9,815.3 441.8,823.3 444.5,831.4 447.1,839.4 449.6,847.4 451.9,855.5 454.1,863.5 456.2,871.5 458.1,879.5 459.9,887.6 461.6,895.6 463.2,903.6 464.6,911.7 465.8,919.7 467,927.7 468,935.8 468.9,943.8 469.6,951.8 470.2,959.8 470.7,967.9 471,975.9 471.3,983.9 471.3,992 471.2,1000 494,1000 494.1,992 494.1,983.9 494,975.9 493.8,967.9 493.4,959.8 492.9,951.8 492.3,943.8 491.5,935.8 490.5,927.7 489.4,919.7 488.2,911.7 486.8,903.6 485.3,895.6 483.6,887.6 481.8,879.5 479.9,871.5 477.8,863.5 475.5,855.5 473.1,847.4 470.5,839.4 467.8,831.4 465,823.3 462,815.3 458.8,807.3 455.5,799.2 452.1,791.2 448.5,783.2 444.7,775.1 440.9,767.1 436.9,759.1 432.7,751.1 428.4,743 424,735 419.4,727 414.7,718.9 409.9,710.9 404.9,702.9 399.8,694.8 394.6,686.8 389.3,678.8 383.8,670.7 378.2,662.7 372.5,654.7 366.7,646.7 360.8,638.6 354.8,630.6 348.7,622.6 342.4,614.5 336.1,606.5 329.7,598.5 323.2,590.4 316.6,582.4 309.9,574.4 303.1,566.4 296.3,558.3 289.4,550.3 282.4,542.3 275.3,534.2 268.2,526.2Z" fill="#C0F020"/>
<path d="M250.9,526.2 258,534.2 265.1,542.3 272,550.3 278.9,558.3 285.7,566.4 292.4,574.4 299,582.4 305.6,590.4 312,598.5 318.4,606.5 324.6,614.5 330.8,622.6 336.8,630.6 342.8,638.6 348.6,646.7 354.3,654.7 359.9,662.7 365.3,670.7 370.6,678.8 375.8,686.8 380.9,694.8 385.8,702.9 390.6,710.9 395.2,718.9 399.8,727 404.1,735 408.4,743 412.5,751.1 416.5,759.1 420.3,767.1 424,775.1 427.5,783.2 430.9,791.2 434.2,799.2 437.4,807.3 440.4,815.3 443.2,823.3 446,831.4 448.6,839.4 451.1,847.4 453.4,855.5 455.6,863.5 457.7,871.5 459.6,879.5 461.4,887.6 463.1,895.6 464.7,903.6 466.1,911.7 467.4,919.7 468.5,927.7 469.5,935.8 470.4,943.8 471.1,951.8 471.7,959.8 472.2,967.9 472.5,975.9 472.8,983.9 472.8,992 472.7,1000 492.7,1000 492.8,992 492.8,983.9 492.7,975.9 492.5,967.9 492.2,959.8 491.7,951.8 491,943.8 490.2,935.8 489.3,927.7 488.2,919.7 487,911.7 485.6,903.6 484.1,895.6 482.4,887.6 480.6,879.5 478.7,871.5 476.6,863.5 474.3,855.5 471.9,847.4 469.3,839.4 466.6,831.4 463.8,823.3 460.8,815.3 457.7,807.3 454.4,799.2 450.9,791.2 447.4,783.2 443.6,775.1 439.8,767.1 435.8,759.1 431.6,751.1 427.3,743 422.9,735 418.3,727 413.7,718.9 408.8,710.9 403.9,702.9 398.8,694.8 393.6,686.8 388.2,678.8 382.8,670.7 377.2,662.7 371.5,654.7 365.7,646.7 359.8,638.6 353.8,630.6 347.7,622.6 341.5,614.5 335.2,606.5 328.8,598.5 322.3,590.4 315.7,582.4 309,574.4 302.3,566.4 295.4,558.3 288.5,550.3 281.6,542.3 274.5,534.2 267.4,526.2Z" fill="#FDF22D"/>
<path d="M252.7,526.2 259.8,534.2 266.9,542.3 273.8,550.3 280.7,558.3 287.6,566.4 294.3,574.4 301,582.4 307.5,590.4 314,598.5 320.4,606.5 326.7,614.5 332.9,622.6 339,630.6 344.9,638.6 350.8,646.7 356.5,654.7 362.1,662.7 367.6,670.7 372.9,678.8 378.2,686.8 383.3,694.8 388.2,702.9 393,710.9 397.7,718.9 402.3,727 406.7,735 411,743 415.1,751.1 419.1,759.1 423,767.1 426.7,775.1 430.3,783.2 433.8,791.2 437.1,799.2 440.2,807.3 443.3,815.3 446.2,823.3 448.9,831.4 451.5,839.4 454,847.4 456.4,855.5 458.6,863.5 460.7,871.5 462.6,879.5 464.4,887.6 466.1,895.6 467.6,903.6 469,911.7 470.3,919.7 471.4,927.7 472.4,935.8 473.2,943.8 473.9,951.8 474.5,959.8 474.9,967.9 475.2,975.9 475.3,983.9 475.3,992 475.2,1000 491.2,1000 491.3,992 491.3,983.9 491.2,975.9 490.9,967.9 490.5,959.8 489.9,951.8 489.2,943.8 488.4,935.8 487.4,927.7 486.3,919.7 485,911.7 483.6,903.6 482.1,895.6 480.4,887.6 478.6,879.5 476.7,871.5 474.6,863.5 472.3,855.5 469.9,847.4 467.4,839.4 464.7,831.4 461.9,823.3 458.9,815.3 455.8,807.3 452.6,799.2 449.2,791.2 445.6,783.2 441.9,775.1 438.1,767.1 434.1,759.1 430,751.1 425.8,743 421.4,735 416.8,727 412.2,718.9 407.4,710.9 402.4,702.9 397.4,694.8 392.2,686.8 386.8,678.8 381.4,670.7 375.8,662.7 370.1,654.7 364.3,646.7 358.4,638.6 352.4,630.6 346.2,622.6 339.9,614.5 333.6,606.5 327.1,598.5 320.6,590.4 313.9,582.4 307.2,574.4 300.3,566.4 293.4,558.3 286.5,550.3 279.4,542.3 272.3,534.2 265.2,526.2Z" fill="#FBB02A"/>
<path d="M254.5,526.2 261.6,534.2 268.7,542.3 275.7,550.3 282.6,558.3 289.4,566.4 296.2,574.4 302.9,582.4 309.5,590.4 316,598.5 322.4,606.5 328.7,614.5 334.9,622.6 341,630.6 347,638.6 352.8,646.7 358.6,654.7 364.3,662.7 369.8,670.7 375.2,678.8 380.4,686.8 385.6,694.8 390.6,702.9 395.5,710.9 400.2,718.9 404.8,727 409.3,735 413.6,743 417.8,751.1 421.9,759.1 425.8,767.1 429.5,775.1 433.2,783.2 436.7,791.2 440,799.2 443.2,807.3 446.3,815.3 449.2,823.3 452,831.4 454.6,839.4 457.1,847.4 459.4,855.5 461.7,863.5 463.7,871.5 465.6,879.5 467.4,887.6 469,895.6 470.5,903.6 471.9,911.7 473.1,919.7 474.2,927.7 475.1,935.8 475.9,943.8 476.6,951.8 477.1,959.8 477.5,967.9 477.7,975.9 477.8,983.9 477.8,992 477.7,1000 489.7,1000 489.8,992 489.8,983.9 489.6,975.9 489.2,967.9 488.8,959.8 488.2,951.8 487.4,943.8 486.6,935.8 485.5,927.7 484.4,919.7 483.1,911.7 481.7,903.6 480.1,895.6 478.4,887.6 476.6,879.5 474.7,871.5 472.6,863.5 470.3,855.5 468,847.4 465.4,839.4 462.8,831.4 460,823.3 457,815.3 453.9,807.3 450.7,799.2 447.3,791.2 443.8,783.2 440.2,775.1 436.4,767.1 432.4,759.1 428.3,751.1 424.1,743 419.7,735 415.2,727 410.6,718.9 405.8,710.9 400.9,702.9 395.9,694.8 390.7,686.8 385.4,678.8 380,670.7 374.4,662.7 368.7,654.7 362.9,646.7 357,638.6 350.9,630.6 344.8,622.6 338.5,614.5 332.1,606.5 325.5,598.5 318.9,590.4 312.2,582.4 305.4,574.4 298.5,566.4 291.5,558.3 284.5,550.3 277.4,542.3 270.2,534.2 263.1,526.2Z" fill="#F7922B"/>
<path d="M255.7,526.2 262.8,534.2 269.9,542.3 276.9,550.3 283.8,558.3 290.6,566.4 297.3,574.4 304,582.4 310.6,590.4 317.1,598.5 323.5,606.5 329.8,614.5 336,622.6 342.1,630.6 348.1,638.6 353.9,646.7 359.7,654.7 365.4,662.7 370.9,670.7 376.3,678.8 381.6,686.8 386.7,694.8 391.8,702.9 396.7,710.9 401.4,718.9 406,727 410.5,735 414.9,743 419.1,751.1 423.2,759.1 427.1,767.1 430.9,775.1 434.5,783.2 438,791.2 441.4,799.2 444.6,807.3 447.7,815.3 450.6,823.3 453.4,831.4 456.1,839.4 458.6,847.4 460.9,855.5 463.1,863.5 465.2,871.5 467.1,879.5 468.9,887.6 470.6,895.6 472.1,903.6 473.4,911.7 474.6,919.7 475.7,927.7 476.6,935.8 477.4,943.8 478.1,951.8 478.6,959.8 479,967.9 479.2,975.9 479.3,983.9 479.3,992 479.2,1000 488.7,1000 488.8,992 488.8,983.9 488.6,975.9 488.3,967.9 487.8,959.8 487.2,951.8 486.4,943.8 485.6,935.8 484.6,927.7 483.4,919.7 482.1,911.7 480.7,903.6 479.1,895.6 477.5,887.6 475.6,879.5 473.7,871.5 471.6,863.5 469.3,855.5 466.9,847.4 464.4,839.4 461.8,831.4 458.9,823.3 456,815.3 452.9,807.3 449.7,799.2 446.3,791.2 442.8,783.2 439.1,775.1 435.3,767.1 431.4,759.1 427.3,751.1 423,743 418.7,735 414.2,727 409.5,718.9 404.8,710.9 399.8,702.9 394.8,694.8 389.6,686.8 384.3,678.8 378.9,670.7 373.3,662.7 367.6,654.7 361.8,646.7 355.9,638.6 349.8,630.6 343.6,622.6 337.3,614.5 330.9,606.5 324.4,598.5 317.8,590.4 311,582.4 304.2,574.4 297.3,566.4 290.3,558.3 283.3,550.3 276.2,542.3 269,534.2 261.9,526.2Z" fill="#F3752C"/>
<path d="M258.9,526.2 266,534.2 273,542.3 279.7,550.3 286.4,558.3 293,566.4 299.6,574.4 306,582.4 312.4,590.4 318.7,598.5 325,606.5 331.1,614.5 337.2,622.6 343.2,630.6 349.2,638.6 355,646.7 360.8,654.7 366.5,662.7 372,670.7 377.5,678.8 382.8,686.8 387.9,694.8 393,702.9 397.9,710.9 402.7,718.9 407.3,727 411.8,735 416.2,743 420.4,751.1 424.5,759.1 428.4,767.1 432.2,775.1 435.9,783.2 439.4,791.2 442.7,799.2 446,807.3 449.1,815.3 452,823.3 454.8,831.4 457.5,839.4 460,847.4 462.4,855.5 464.6,863.5 466.7,871.5 468.6,879.5 470.4,887.6 472.1,895.6 473.6,903.6 475,911.7 476.2,919.7 477.3,927.7 478.2,935.8 479,943.8 479.6,951.8 480.1,959.8 480.5,967.9 480.7,975.9 480.8,983.9 480.8,992 480.7,1000 487.7,1000 487.8,992 487.8,983.9 487.6,975.9 487.3,967.9 486.8,959.8 486.2,951.8 485.5,943.8 484.6,935.8 483.6,927.7 482.4,919.7 481.1,911.7 479.7,903.6 478.2,895.6 476.5,887.6 474.6,879.5 472.7,871.5 470.6,863.5 468.3,855.5 465.9,847.4 463.4,839.4 460.7,831.4 457.9,823.3 455,815.3 451.9,807.3 448.6,799.2 445.2,791.2 441.7,783.2 438.1,775.1 434.3,767.1 430.3,759.1 426.2,751.1 422,743 417.6,735 413.1,727 408.5,718.9 403.7,710.9 398.8,702.9 393.7,694.8 388.6,686.8 383.2,678.8 377.8,670.7 372.2,662.7 366.5,654.7 360.7,646.7 354.7,638.6 348.6,630.6 342.3,622.6 335.9,614.5 329.4,606.5 322.7,598.5 315.9,590.4 309,582.4 302.1,574.4 295,566.4 287.8,558.3 280.6,550.3 273.3,542.3 266,534.2 258.9,526.2Z" fill="#E93729"/>
<path d="M833,526.2 841.4,536.7 849.7,547.3 857.8,557.8 865.8,568.3 873.7,578.8 881.3,589.4 888.8,599.9 896.2,610.4 903.3,621 910.3,631.5 917.1,642 923.6,652.5 930,663.1 936.1,673.6 942.1,684.1 947.8,694.7 953.3,705.2 958.6,715.7 963.7,726.2 968.5,736.8 973.2,747.3 977.6,757.8 981.8,768.4 985.8,778.9 989.5,789.4 993.1,800 996.4,810.5 999.5,821 1002.4,831.5 1005.1,842.1 1007.6,852.6 1009.9,863.1 1012,873.7 1013.9,884.2 1015.6,894.7 1017.1,905.2 1018.5,915.8 1019.6,926.3 1020.5,936.8 1021.3,947.4 1021.8,957.9 1022.2,968.4 1022.4,978.9 1022.4,989.5 1022.2,1000 1063.3,1000 1063.4,989.5 1063.2,978.9 1062.9,968.4 1062.4,957.9 1061.7,947.4 1060.8,936.8 1059.8,926.3 1058.5,915.8 1057,905.2 1055.4,894.7 1053.6,884.2 1051.5,873.7 1049.3,863.1 1046.8,852.6 1044.2,842.1 1041.4,831.5 1038.3,821 1035,810.5 1031.6,800 1027.9,789.4 1024,778.9 1019.9,768.4 1015.5,757.8 1011,747.3 1006.2,736.8 1001.2,726.2 996,715.7 990.6,705.2 984.9,694.7 979,684.1 973,673.6 966.7,663.1 960.2,652.5 953.5,642 946.5,631.5 939.4,621 932.1,610.4 924.7,599.9 917,589.4 909.2,578.8 901.2,568.3 893.1,557.8 884.8,547.3 876.4,536.7 867.9,526.2Z" fill="#2468F8"/>
<path d="M836,526.2 844.4,536.7 852.7,547.3 860.8,557.8 868.8,568.3 876.7,578.8 884.4,589.4 891.9,599.9 899.3,610.4 906.4,621 913.4,631.5 920.2,642 926.8,652.5 933.1,663.1 939.3,673.6 945.3,684.1 951,694.7 956.5,705.2 961.8,715.7 966.9,726.2 971.8,736.8 976.4,747.3 980.8,757.8 985,768.4 989,778.9 992.8,789.4 996.4,800 999.7,810.5 1002.8,821 1005.8,831.5 1008.5,842.1 1011,852.6 1013.3,863.1 1015.4,873.7 1017.3,884.2 1019,894.7 1020.6,905.2 1021.9,915.8 1023,926.3 1024,936.8 1024.7,947.4 1025.3,957.9 1025.7,968.4 1025.9,978.9 1025.9,989.5 1025.7,1000 1059.8,1000 1059.9,989.5 1059.7,978.9 1059.4,968.4 1058.9,957.9 1058.3,947.4 1057.4,936.8 1056.3,926.3 1055.1,915.8 1053.6,905.2 1052,894.7 1050.2,884.2 1048.1,873.7 1045.9,863.1 1043.5,852.6 1040.9,842.1 1038,831.5 1035,821 1031.7,810.5 1028.3,800 1024.6,789.4 1020.7,778.9 1016.6,768.4 1012.3,757.8 1007.7,747.3 1003,736.8 998,726.2 992.8,715.7 987.4,705.2 981.7,694.7 975.9,684.1 969.8,673.6 963.5,663.1 957,652.5 950.3,642 943.4,631.5 936.3,621 929.1,610.4 921.6,599.9 914,589.4 906.1,578.8 898.2,568.3 890.1,557.8 881.8,547.3 873.4,536.7 864.9,526.2Z" fill="#3A9CF8"/>
<path d="M837.5,526.2 845.9,536.7 854.2,547.3 862.3,557.8 870.3,568.3 878.2,578.8 885.9,589.4 893.4,599.9 900.8,610.4 907.9,621 914.9,631.5 921.7,642 928.3,652.5 934.6,663.1 940.8,673.6 946.8,684.1 952.5,694.7 958,705.2 963.3,715.7 968.4,726.2 973.3,736.8 977.9,747.3 982.3,757.8 986.5,768.4 990.5,778.9 994.3,789.4 997.9,800 1001.2,810.5 1004.3,821 1007.3,831.5 1010,842.1 1012.5,852.6 1014.8,863.1 1016.9,873.7 1018.8,884.2 1020.5,894.7 1022.1,905.2 1023.4,915.8 1024.5,926.3 1025.5,936.8 1026.2,947.4 1026.8,957.9 1027.2,968.4 1027.4,978.9 1027.4,989.5 1027.2,1000 1058.3,1000 1058.4,989.5 1058.2,978.9 1057.9,968.4 1057.4,957.9 1056.8,947.4 1055.9,936.8 1054.8,926.3 1053.6,915.8 1052.1,905.2 1050.5,894.7 1048.7,884.2 1046.6,873.7 1044.4,863.1 1042,852.6 1039.4,842.1 1036.5,831.5 1033.5,821 1030.2,810.5 1026.8,800 1023.1,789.4 1019.2,778.9 1015.1,768.4 1010.8,757.8 1006.2,747.3 1001.5,736.8 996.5,726.2 991.3,715.7 985.9,705.2 980.2,694.7 974.4,684.1 968.3,673.6 962,663.1 955.5,652.5 948.8,642 941.9,631.5 934.8,621 927.6,610.4 920.1,599.9 912.5,589.4 904.6,578.8 896.7,568.3 888.6,557.8 880.3,547.3 871.9,536.7 863.4,526.2Z" fill="#4EC4FA"/>
<path d="M840,526.2 848.4,536.7 856.7,547.3 864.9,557.8 872.9,568.3 880.7,578.8 888.4,589.4 896,599.9 903.3,610.4 910.5,621 917.5,631.5 924.3,642 930.9,652.5 937.3,663.1 943.4,673.6 949.4,684.1 955.2,694.7 960.7,705.2 966,715.7 971.1,726.2 976,736.8 980.6,747.3 985.1,757.8 989.3,768.4 993.3,778.9 997.1,789.4 1000.7,800 1004,810.5 1007.2,821 1010.1,831.5 1012.8,842.1 1015.3,852.6 1017.7,863.1 1019.8,873.7 1021.7,884.2 1023.4,894.7 1025,905.2 1026.3,915.8 1027.4,926.3 1028.4,936.8 1029.2,947.4 1029.7,957.9 1030.1,968.4 1030.3,978.9 1030.4,989.5 1030.2,1000 1055.3,1000 1055.4,989.5 1055.3,978.9 1055,968.4 1054.5,957.9 1053.8,947.4 1052.9,936.8 1051.9,926.3 1050.7,915.8 1049.2,905.2 1047.6,894.7 1045.8,884.2 1043.8,873.7 1041.6,863.1 1039.1,852.6 1036.5,842.1 1033.7,831.5 1030.7,821 1027.4,810.5 1024,800 1020.3,789.4 1016.4,778.9 1012.3,768.4 1008,757.8 1003.5,747.3 998.7,736.8 993.8,726.2 988.6,715.7 983.2,705.2 977.6,694.7 971.7,684.1 965.7,673.6 959.4,663.1 952.9,652.5 946.2,642 939.3,631.5 932.3,621 925,610.4 917.5,599.9 909.9,589.4 902.1,578.8 894.1,568.3 886,557.8 877.8,547.3 869.4,536.7 860.9,526.2Z" fill="#66FAFA"/>
<path d="M843.3,526.2 851.7,536.7 860,547.3 868.2,557.8 876.2,568.3 884.1,578.8 891.8,589.4 899.3,599.9 906.7,610.4 913.9,621 920.9,631.5 927.7,642 934.3,652.5 940.7,663.1 946.9,673.6 952.8,684.1 958.6,694.7 964.1,705.2 969.5,715.7 974.6,726.2 979.5,736.8 984.1,747.3 988.6,757.8 992.8,768.4 996.8,778.9 1000.6,789.4 1004.2,800 1007.6,810.5 1010.7,821 1013.7,831.5 1016.4,842.1 1018.9,852.6 1021.3,863.1 1023.4,873.7 1025.3,884.2 1027,894.7 1028.6,905.2 1029.9,915.8 1031.1,926.3 1032.1,936.8 1032.8,947.4 1033.4,957.9 1033.8,968.4 1034,978.9 1034.1,989.5 1033.9,1000 1051.6,1000 1051.7,989.5 1051.6,978.9 1051.3,968.4 1050.8,957.9 1050.1,947.4 1049.3,936.8 1048.2,926.3 1047,915.8 1045.6,905.2 1044,894.7 1042.2,884.2 1040.2,873.7 1038,863.1 1035.6,852.6 1033,842.1 1030.1,831.5 1027.1,821 1023.9,810.5 1020.4,800 1016.8,789.4 1012.9,778.9 1008.8,768.4 1004.5,757.8 1000,747.3 995.3,736.8 990.3,726.2 985.1,715.7 979.7,705.2 974.1,694.7 968.3,684.1 962.2,673.6 956,663.1 949.5,652.5 942.8,642 936,631.5 928.9,621 921.6,610.4 914.2,599.9 906.6,589.4 898.8,578.8 890.8,568.3 882.7,557.8 874.5,547.3 866.1,536.7 857.6,526.2Z" fill="#78F8C4"/>
<path d="M845.9,526.2 854.3,536.7 862.6,547.3 870.8,557.8 878.8,568.3 886.7,578.8 894.4,589.4 901.9,599.9 909.3,610.4 916.5,621 923.5,631.5 930.3,642 936.9,652.5 943.3,663.1 949.4,673.6 955.4,684.1 961.2,694.7 966.7,705.2 972,715.7 977.1,726.2 982,736.8 986.7,747.3 991.1,757.8 995.3,768.4 999.4,778.9 1003.1,789.4 1006.7,800 1010.1,810.5 1013.2,821 1016.2,831.5 1018.9,842.1 1021.5,852.6 1023.8,863.1 1025.9,873.7 1027.8,884.2 1029.6,894.7 1031.1,905.2 1032.4,915.8 1033.6,926.3 1034.6,936.8 1035.3,947.4 1035.9,957.9 1036.3,968.4 1036.5,978.9 1036.6,989.5 1036.4,1000 1049.1,1000 1049.2,989.5 1049.1,978.9 1048.8,968.4 1048.3,957.9 1047.6,947.4 1046.8,936.8 1045.7,926.3 1044.5,915.8 1043.1,905.2 1041.5,894.7 1039.7,884.2 1037.6,873.7 1035.4,863.1 1033,852.6 1030.4,842.1 1027.6,831.5 1024.6,821 1021.3,810.5 1017.9,800 1014.2,789.4 1010.4,778.9 1006.3,768.4 1002,757.8 997.5,747.3 992.7,736.8 987.8,726.2 982.6,715.7 977.2,705.2 971.5,694.7 965.7,684.1 959.7,673.6 953.4,663.1 946.9,652.5 940.3,642 933.4,631.5 926.3,621 919,610.4 911.6,599.9 904,589.4 896.2,578.8 888.2,568.3 880.1,557.8 871.9,547.3 863.5,536.7 855,526.2Z" fill="#7EF76C"/>
</g></g>
<clipPath id="pc"><rect x="164.6" y="1021.3" width="1014.4" height="452.2"/></clipPath>
<g clip-path="url(#pc)"><g filter="url(#bl2)">
<rect x="144.6" y="1001.3" width="1054.4" height="492.2" fill="#7DF514"/>
<path d="M49.9,1009.3 61.6,1019.9 73.1,1030.5 84.3,1041 95.4,1051.6 106.1,1062.2 116.7,1072.8 126.9,1083.4 136.9,1094 146.6,1104.5 156,1115.1 165.1,1125.7 173.8,1136.3 182.3,1146.9 190.5,1157.5 198.3,1168 205.8,1178.6 213,1189.2 219.9,1199.8 226.4,1210.4 232.7,1220.9 238.6,1231.5 244.3,1242.1 249.6,1252.7 254.6,1263.3 259.3,1273.9 263.7,1284.4 267.9,1295 271.8,1305.6 275.3,1316.2 278.7,1326.8 281.7,1337.3 284.5,1347.9 287.1,1358.5 289.4,1369.1 291.4,1379.7 293.2,1390.3 294.8,1400.8 296.1,1411.4 297.3,1422 298.1,1432.6 298.8,1443.2 299.3,1453.8 299.5,1464.3 299.5,1474.9 299.3,1485.5 324,1485.5 324,1474.9 323.9,1464.3 323.5,1453.8 322.9,1443.2 322.1,1432.6 321,1422 319.7,1411.4 318.2,1400.8 316.5,1390.3 314.6,1379.7 312.4,1369.1 309.9,1358.5 307.2,1347.9 304.3,1337.3 301.1,1326.8 297.6,1316.2 293.8,1305.6 289.8,1295 285.5,1284.4 280.9,1273.9 276.1,1263.3 270.9,1252.7 265.4,1242.1 259.6,1231.5 253.6,1220.9 247.2,1210.4 240.4,1199.8 233.4,1189.2 226.1,1178.6 218.4,1168 210.4,1157.5 202.1,1146.9 193.5,1136.3 184.6,1125.7 175.3,1115.1 165.8,1104.5 155.9,1094 145.8,1083.4 135.4,1072.8 124.7,1062.2 113.8,1051.6 102.6,1041 91.2,1030.5 79.6,1019.9 67.7,1009.3Z" fill="#A2F21E"/>
<path d="M258.7,1009.3 268.5,1019.9 278.2,1030.5 287.7,1041 297.1,1051.6 306.4,1062.2 315.4,1072.8 324.3,1083.4 333,1094 341.5,1104.5 349.8,1115.1 357.8,1125.7 365.7,1136.3 373.3,1146.9 380.7,1157.5 387.8,1168 394.8,1178.6 401.4,1189.2 407.8,1199.8 414,1210.4 419.9,1220.9 425.6,1231.5 431,1242.1 436.2,1252.7 441.1,1263.3 445.7,1273.9 450.1,1284.4 454.3,1295 458.2,1305.6 461.8,1316.2 465.2,1326.8 468.4,1337.3 471.3,1347.9 473.9,1358.5 476.4,1369.1 478.5,1379.7 480.5,1390.3 482.2,1400.8 483.6,1411.4 484.9,1422 485.8,1432.6 486.6,1443.2 487.1,1453.8 487.4,1464.3 487.5,1474.9 487.3,1485.5 493.4,1485.5 493.5,1474.9 493.4,1464.3 493,1453.8 492.4,1443.2 491.6,1432.6 490.6,1422 489.3,1411.4 487.8,1400.8 486,1390.3 484,1379.7 481.8,1369.1 479.3,1358.5 476.6,1347.9 473.7,1337.3 470.4,1326.8 467,1316.2 463.3,1305.6 459.3,1295 455.1,1284.4 450.7,1273.9 446,1263.3 441,1252.7 435.8,1242.1 430.3,1231.5 424.6,1220.9 418.6,1210.4 412.4,1199.8 405.9,1189.2 399.2,1178.6 392.2,1168 385,1157.5 377.6,1146.9 369.9,1136.3 362,1125.7 353.9,1115.1 345.5,1104.5 337,1094 328.2,1083.4 319.3,1072.8 310.2,1062.2 300.9,1051.6 291.4,1041 281.9,1030.5 272.1,1019.9 262.3,1009.3Z" fill="#9AF21C"/>
<path d="M771.4,1009.3 778.9,1019.9 786.3,1030.5 793.6,1041 800.8,1051.6 807.9,1062.2 814.8,1072.8 821.7,1083.4 828.3,1094 834.9,1104.5 841.2,1115.1 847.4,1125.7 853.5,1136.3 859.3,1146.9 865,1157.5 870.5,1168 875.8,1178.6 880.9,1189.2 885.9,1199.8 890.6,1210.4 895.1,1220.9 899.4,1231.5 903.5,1242.1 907.4,1252.7 911.1,1263.3 914.5,1273.9 917.8,1284.4 920.8,1295 923.7,1305.6 926.3,1316.2 928.6,1326.8 930.8,1337.3 932.8,1347.9 934.5,1358.5 936,1369.1 937.3,1379.7 938.4,1390.3 939.3,1400.8 939.9,1411.4 940.4,1422 940.6,1432.6 940.6,1443.2 940.4,1453.8 940,1464.3 939.3,1474.9 938.5,1485.5 1378.3,1485.5 1373.1,1474.9 1367.9,1464.3 1362.7,1453.8 1357.5,1443.2 1352.4,1432.6 1347.2,1422 1342,1411.4 1336.9,1400.8 1331.7,1390.3 1326.5,1379.7 1321.4,1369.1 1316.2,1358.5 1311.1,1347.9 1306,1337.3 1300.8,1326.8 1295.7,1316.2 1290.6,1305.6 1285.4,1295 1280.3,1284.4 1275.2,1273.9 1270.1,1263.3 1265,1252.7 1259.9,1242.1 1254.9,1231.5 1249.8,1220.9 1244.8,1210.4 1239.7,1199.8 1234.7,1189.2 1229.7,1178.6 1224.8,1168 1219.9,1157.5 1215,1146.9 1210.1,1136.3 1205.4,1125.7 1200.6,1115.1 1195.9,1104.5 1191.3,1094 1186.7,1083.4 1182.3,1072.8 1177.9,1062.2 1173.6,1051.6 1169.4,1041 1165.3,1030.5 1161.3,1019.9 1157.5,1009.3Z" fill="#92F21C"/>
<path d="M777.2,1009.3 784.9,1019.9 792.4,1030.5 799.9,1041 807.2,1051.6 814.5,1062.2 821.6,1072.8 828.5,1083.4 835.3,1094 842,1104.5 848.4,1115.1 854.7,1125.7 860.9,1136.3 866.8,1146.9 872.6,1157.5 878.2,1168 883.5,1178.6 888.7,1189.2 893.7,1199.8 898.5,1210.4 903,1220.9 907.4,1231.5 911.5,1242.1 915.4,1252.7 919.1,1263.3 922.6,1273.9 925.8,1284.4 928.9,1295 931.7,1305.6 934.3,1316.2 936.6,1326.8 938.8,1337.3 940.7,1347.9 942.4,1358.5 943.9,1369.1 945.1,1379.7 946.1,1390.3 946.9,1400.8 947.5,1411.4 947.9,1422 948,1432.6 947.9,1443.2 947.6,1453.8 947.1,1464.3 946.3,1474.9 945.3,1485.5 1319.5,1485.5 1315,1474.9 1310.6,1464.3 1306.1,1453.8 1301.7,1443.2 1297.2,1432.6 1292.8,1422 1288.3,1411.4 1283.9,1400.8 1279.5,1390.3 1275,1379.7 1270.6,1369.1 1266.1,1358.5 1261.7,1347.9 1257.2,1337.3 1252.8,1326.8 1248.3,1316.2 1243.9,1305.6 1239.4,1295 1235,1284.4 1230.6,1273.9 1226.1,1263.3 1221.7,1252.7 1217.3,1242.1 1212.8,1231.5 1208.4,1220.9 1204,1210.4 1199.6,1199.8 1195.3,1189.2 1190.9,1178.6 1186.6,1168 1182.3,1157.5 1178,1146.9 1173.8,1136.3 1169.6,1125.7 1165.5,1115.1 1161.4,1104.5 1157.3,1094 1153.4,1083.4 1149.5,1072.8 1145.7,1062.2 1142,1051.6 1138.3,1041 1134.8,1030.5 1131.4,1019.9 1128.2,1009.3Z" fill="#A2F01E"/>
<path d="M785.2,1009.3 792.8,1019.9 800.4,1030.5 807.9,1041 815.3,1051.6 822.5,1062.2 829.6,1072.8 836.6,1083.4 843.4,1094 850.1,1104.5 856.6,1115.1 862.9,1125.7 869,1136.3 874.9,1146.9 880.7,1157.5 886.3,1168 891.6,1178.6 896.8,1189.2 901.8,1199.8 906.5,1210.4 911.1,1220.9 915.4,1231.5 919.5,1242.1 923.4,1252.7 927.1,1263.3 930.5,1273.9 933.7,1284.4 936.7,1295 939.5,1305.6 942.1,1316.2 944.4,1326.8 946.5,1337.3 948.4,1347.9 950,1358.5 951.5,1369.1 952.7,1379.7 953.6,1390.3 954.4,1400.8 954.9,1411.4 955.2,1422 955.3,1432.6 955.1,1443.2 954.7,1453.8 954.1,1464.3 953.3,1474.9 952.2,1485.5 1244,1485.5 1242.6,1474.9 1241.1,1464.3 1239.4,1453.8 1237.7,1443.2 1235.8,1432.6 1233.8,1422 1231.6,1411.4 1229.4,1400.8 1227,1390.3 1224.5,1379.7 1221.8,1369.1 1219,1358.5 1216.2,1347.9 1213.1,1337.3 1210,1326.8 1206.7,1316.2 1203.3,1305.6 1199.8,1295 1196.2,1284.4 1192.4,1273.9 1188.5,1263.3 1184.5,1252.7 1180.4,1242.1 1176.2,1231.5 1171.8,1220.9 1167.3,1210.4 1162.7,1199.8 1158.1,1189.2 1153.3,1178.6 1148.4,1168 1143.4,1157.5 1138.3,1146.9 1133.1,1136.3 1127.8,1125.7 1122.5,1115.1 1117.1,1104.5 1111.6,1094 1106.1,1083.4 1100.5,1072.8 1094.9,1062.2 1089.2,1051.6 1083.5,1041 1077.8,1030.5 1072.1,1019.9 1066.4,1009.3Z" fill="#C0F020"/>
<path d="M797.2,1009.3 804.9,1019.9 812.4,1030.5 819.9,1041 827.2,1051.6 834.5,1062.2 841.6,1072.8 848.5,1083.4 855.3,1094 862,1104.5 868.4,1115.1 874.7,1125.7 880.9,1136.3 886.8,1146.9 892.6,1157.5 898.2,1168 903.5,1178.6 908.7,1189.2 913.7,1199.8 918.5,1210.4 923,1220.9 927.4,1231.5 931.5,1242.1 935.4,1252.7 939.1,1263.3 942.6,1273.9 945.8,1284.4 948.9,1295 951.7,1305.6 954.3,1316.2 956.6,1326.8 958.8,1337.3 960.7,1347.9 962.4,1358.5 963.9,1369.1 965.1,1379.7 966.1,1390.3 966.9,1400.8 967.5,1411.4 967.9,1422 968,1432.6 967.9,1443.2 967.6,1453.8 967.1,1464.3 966.3,1474.9 965.3,1485.5 1191.2,1485.5 1192.3,1474.9 1193.1,1464.3 1193.7,1453.8 1194.1,1443.2 1194.2,1432.6 1194.1,1422 1193.8,1411.4 1193.2,1400.8 1192.3,1390.3 1191.3,1379.7 1189.9,1369.1 1188.4,1358.5 1186.6,1347.9 1184.5,1337.3 1182.3,1326.8 1179.7,1316.2 1177,1305.6 1174,1295 1170.7,1284.4 1167.2,1273.9 1163.5,1263.3 1159.5,1252.7 1155.3,1242.1 1150.9,1231.5 1146.3,1220.9 1141.4,1210.4 1136.2,1199.8 1130.9,1189.2 1125.3,1178.6 1119.6,1168 1113.6,1157.5 1107.4,1146.9 1101,1136.3 1094.4,1125.7 1087.6,1115.1 1080.6,1104.5 1073.4,1094 1066.1,1083.4 1058.5,1072.8 1050.9,1062.2 1043,1051.6 1035.1,1041 1027,1030.5 1018.8,1019.9 1010.4,1009.3Z" fill="#E0F523"/>
<path d="M806.3,1009.3 813.9,1019.9 821.4,1030.5 828.8,1041 836.1,1051.6 843.2,1062.2 850.3,1072.8 857.2,1083.4 864,1094 870.6,1104.5 877.1,1115.1 883.4,1125.7 889.5,1136.3 895.5,1146.9 901.2,1157.5 906.8,1168 912.2,1178.6 917.4,1189.2 922.4,1199.8 927.3,1210.4 931.9,1220.9 936.3,1231.5 940.5,1242.1 944.4,1252.7 948.2,1263.3 951.8,1273.9 955.1,1284.4 958.3,1295 961.2,1305.6 963.9,1316.2 966.4,1326.8 968.6,1337.3 970.7,1347.9 972.5,1358.5 974.1,1369.1 975.5,1379.7 976.7,1390.3 977.7,1400.8 978.4,1411.4 978.9,1422 979.2,1432.6 979.3,1443.2 979.2,1453.8 978.9,1464.3 978.3,1474.9 977.6,1485.5 1165.2,1485.5 1166.3,1474.9 1167.2,1464.3 1167.8,1453.8 1168.1,1443.2 1168.2,1432.6 1168.1,1422 1167.7,1411.4 1167.1,1400.8 1166.2,1390.3 1165,1379.7 1163.6,1369.1 1162,1358.5 1160.1,1347.9 1157.9,1337.3 1155.5,1326.8 1152.9,1316.2 1150,1305.6 1146.8,1295 1143.4,1284.4 1139.7,1273.9 1135.8,1263.3 1131.6,1252.7 1127.2,1242.1 1122.6,1231.5 1117.7,1220.9 1112.6,1210.4 1107.2,1199.8 1101.6,1189.2 1095.7,1178.6 1089.7,1168 1083.4,1157.5 1076.9,1146.9 1070.1,1136.3 1063.2,1125.7 1056.1,1115.1 1048.7,1104.5 1041.2,1094 1033.5,1083.4 1025.6,1072.8 1017.5,1062.2 1009.3,1051.6 1000.9,1041 992.4,1030.5 983.7,1019.9 974.9,1009.3Z" fill="#FDF22D"/>
<path d="M816.2,1009.3 823.9,1019.9 831.4,1030.5 838.9,1041 846.2,1051.6 853.4,1062.2 860.5,1072.8 867.5,1083.4 874.3,1094 881,1104.5 887.5,1115.1 893.8,1125.7 900,1136.3 906,1146.9 911.8,1157.5 917.5,1168 922.9,1178.6 928.2,1189.2 933.2,1199.8 938.1,1210.4 942.7,1220.9 947.2,1231.5 951.4,1242.1 955.5,1252.7 959.3,1263.3 962.9,1273.9 966.3,1284.4 969.5,1295 972.4,1305.6 975.2,1316.2 977.7,1326.8 980,1337.3 982.1,1347.9 984,1358.5 985.7,1369.1 987.1,1379.7 988.3,1390.3 989.3,1400.8 990.1,1411.4 990.7,1422 991.1,1432.6 991.2,1443.2 991.1,1453.8 990.8,1464.3 990.3,1474.9 989.6,1485.5 1134,1485.5 1134.4,1474.9 1134.6,1464.3 1134.6,1453.8 1134.3,1443.2 1133.8,1432.6 1133.1,1422 1132.2,1411.4 1131.1,1400.8 1129.7,1390.3 1128.1,1379.7 1126.3,1369.1 1124.3,1358.5 1122,1347.9 1119.6,1337.3 1116.9,1326.8 1113.9,1316.2 1110.8,1305.6 1107.4,1295 1103.8,1284.4 1100,1273.9 1095.9,1263.3 1091.7,1252.7 1087.2,1242.1 1082.5,1231.5 1077.6,1220.9 1072.5,1210.4 1067.2,1199.8 1061.6,1189.2 1055.9,1178.6 1050,1168 1043.8,1157.5 1037.5,1146.9 1031,1136.3 1024.3,1125.7 1017.4,1115.1 1010.4,1104.5 1003.2,1094 995.8,1083.4 988.3,1072.8 980.6,1062.2 972.9,1051.6 964.9,1041 956.9,1030.5 948.8,1019.9 940.5,1009.3Z" fill="#FDDD2A"/>
<path d="M822.2,1009.3 829.9,1019.9 837.4,1030.5 844.9,1041 852.2,1051.6 859.4,1062.2 866.5,1072.8 873.5,1083.4 880.3,1094 887,1104.5 893.5,1115.1 899.8,1125.7 906,1136.3 912,1146.9 917.8,1157.5 923.5,1168 928.9,1178.6 934.2,1189.2 939.2,1199.8 944.1,1210.4 948.7,1220.9 953.2,1231.5 957.4,1242.1 961.5,1252.7 965.3,1263.3 968.9,1273.9 972.3,1284.4 975.5,1295 978.4,1305.6 981.2,1316.2 983.7,1326.8 986,1337.3 988.1,1347.9 990,1358.5 991.7,1369.1 993.1,1379.7 994.3,1390.3 995.3,1400.8 996.1,1411.4 996.7,1422 997.1,1432.6 997.2,1443.2 997.1,1453.8 996.8,1464.3 996.3,1474.9 995.6,1485.5 1112.5,1485.5 1113.3,1474.9 1113.9,1464.3 1114.3,1453.8 1114.4,1443.2 1114.3,1432.6 1114,1422 1113.4,1411.4 1112.7,1400.8 1111.7,1390.3 1110.4,1379.7 1108.9,1369.1 1107.2,1358.5 1105.3,1347.9 1103.1,1337.3 1100.7,1326.8 1098.1,1316.2 1095.3,1305.6 1092.2,1295 1088.9,1284.4 1085.3,1273.9 1081.5,1263.3 1077.6,1252.7 1073.3,1242.1 1068.9,1231.5 1064.2,1220.9 1059.4,1210.4 1054.3,1199.8 1048.9,1189.2 1043.4,1178.6 1037.7,1168 1031.8,1157.5 1025.6,1146.9 1019.3,1136.3 1012.8,1125.7 1006.1,1115.1 999.2,1104.5 992.2,1094 985,1083.4 977.6,1072.8 970.1,1062.2 962.5,1051.6 954.7,1041 946.8,1030.5 938.8,1019.9 930.7,1009.3Z" fill="#FBBE2A"/>
<path d="M825.1,1009.3 832.8,1019.9 840.5,1030.5 848,1041 855.4,1051.6 862.7,1062.2 869.8,1072.8 876.9,1083.4 883.7,1094 890.5,1104.5 897,1115.1 903.4,1125.7 909.6,1136.3 915.7,1146.9 921.6,1157.5 927.2,1168 932.7,1178.6 938,1189.2 943.1,1199.8 948,1210.4 952.7,1220.9 957.2,1231.5 961.4,1242.1 965.5,1252.7 969.3,1263.3 972.9,1273.9 976.4,1284.4 979.5,1295 982.5,1305.6 985.3,1316.2 987.8,1326.8 990.1,1337.3 992.2,1347.9 994.1,1358.5 995.8,1369.1 997.2,1379.7 998.4,1390.3 999.4,1400.8 1000.2,1411.4 1000.8,1422 1001.1,1432.6 1001.3,1443.2 1001.2,1453.8 1000.9,1464.3 1000.3,1474.9 999.6,1485.5 1096.7,1485.5 1097.3,1474.9 1097.8,1464.3 1098,1453.8 1098.1,1443.2 1097.9,1432.6 1097.5,1422 1096.9,1411.4 1096,1400.8 1095,1390.3 1093.7,1379.7 1092.2,1369.1 1090.5,1358.5 1088.6,1347.9 1086.4,1337.3 1084.1,1326.8 1081.5,1316.2 1078.7,1305.6 1075.7,1295 1072.4,1284.4 1069,1273.9 1065.4,1263.3 1061.5,1252.7 1057.4,1242.1 1053.1,1231.5 1048.6,1220.9 1043.9,1210.4 1039,1199.8 1033.9,1189.2 1028.6,1178.6 1023.1,1168 1017.4,1157.5 1011.6,1146.9 1005.5,1136.3 999.3,1125.7 992.9,1115.1 986.3,1104.5 979.6,1094 972.8,1083.4 965.7,1072.8 958.6,1062.2 951.3,1051.6 943.9,1041 936.4,1030.5 928.8,1019.9 921.2,1009.3Z" fill="#F9A82A"/>
<path d="M828.1,1009.3 835.8,1019.9 843.5,1030.5 851,1041 858.5,1051.6 865.8,1062.2 873,1072.8 880,1083.4 886.9,1094 893.7,1104.5 900.3,1115.1 906.8,1125.7 913,1136.3 919.1,1146.9 925,1157.5 930.8,1168 936.3,1178.6 941.7,1189.2 946.8,1199.8 951.8,1210.4 956.5,1220.9 961.1,1231.5 965.4,1242.1 969.5,1252.7 973.4,1263.3 977.1,1273.9 980.6,1284.4 983.9,1295 986.9,1305.6 989.8,1316.2 992.4,1326.8 994.8,1337.3 997,1347.9 999,1358.5 1000.7,1369.1 1002.3,1379.7 1003.6,1390.3 1004.7,1400.8 1005.6,1411.4 1006.2,1422 1006.7,1432.6 1006.9,1443.2 1007,1453.8 1006.8,1464.3 1006.3,1474.9 1005.7,1485.5 1085,1485.5 1085.4,1474.9 1085.6,1464.3 1085.5,1453.8 1085.3,1443.2 1084.9,1432.6 1084.3,1422 1083.5,1411.4 1082.5,1400.8 1081.3,1390.3 1079.9,1379.7 1078.3,1369.1 1076.5,1358.5 1074.5,1347.9 1072.2,1337.3 1069.8,1326.8 1067.2,1316.2 1064.4,1305.6 1061.4,1295 1058.2,1284.4 1054.8,1273.9 1051.2,1263.3 1047.4,1252.7 1043.5,1242.1 1039.3,1231.5 1034.9,1220.9 1030.4,1210.4 1025.6,1199.8 1020.7,1189.2 1015.6,1178.6 1010.3,1168 1004.9,1157.5 999.2,1146.9 993.5,1136.3 987.5,1125.7 981.4,1115.1 975.2,1104.5 968.8,1094 962.3,1083.4 955.7,1072.8 948.9,1062.2 942.1,1051.6 935.1,1041 928,1030.5 920.9,1019.9 913.7,1009.3Z" fill="#F7922B"/>
<path d="M835.2,1009.3 842.9,1019.9 850.4,1030.5 857.8,1041 865.2,1051.6 872.4,1062.2 879.5,1072.8 886.5,1083.4 893.4,1094 900.1,1104.5 906.7,1115.1 913.1,1125.7 919.4,1136.3 925.5,1146.9 931.4,1157.5 937.2,1168 942.8,1178.6 948.2,1189.2 953.4,1199.8 958.4,1210.4 963.3,1220.9 967.9,1231.5 972.3,1242.1 976.6,1252.7 980.6,1263.3 984.5,1273.9 988.1,1284.4 991.5,1295 994.7,1305.6 997.8,1316.2 1000.6,1326.8 1003.2,1337.3 1005.6,1347.9 1007.8,1358.5 1009.8,1369.1 1011.6,1379.7 1013.2,1390.3 1014.5,1400.8 1015.7,1411.4 1016.7,1422 1017.4,1432.6 1018,1443.2 1018.3,1453.8 1018.5,1464.3 1018.4,1474.9 1018.1,1485.5 1072.2,1485.5 1072.4,1474.9 1072.4,1464.3 1072.2,1453.8 1071.8,1443.2 1071.2,1432.6 1070.4,1422 1069.4,1411.4 1068.2,1400.8 1066.8,1390.3 1065.3,1379.7 1063.5,1369.1 1061.6,1358.5 1059.4,1347.9 1057.1,1337.3 1054.6,1326.8 1051.8,1316.2 1048.9,1305.6 1045.8,1295 1042.5,1284.4 1039,1273.9 1035.3,1263.3 1031.5,1252.7 1027.4,1242.1 1023.2,1231.5 1018.8,1220.9 1014.2,1210.4 1009.4,1199.8 1004.4,1189.2 999.3,1178.6 994,1168 988.5,1157.5 982.9,1146.9 977.1,1136.3 971.2,1125.7 965.1,1115.1 958.9,1104.5 952.5,1094 946,1083.4 939.4,1072.8 932.7,1062.2 925.9,1051.6 919,1041 912,1030.5 904.9,1019.9 897.8,1009.3Z" fill="#F3752C"/>
<path d="M840.8,1009.3 848.4,1019.9 855.8,1030.5 863.2,1041 870.5,1051.6 877.7,1062.2 884.8,1072.8 891.7,1083.4 898.6,1094 905.3,1104.5 911.8,1115.1 918.2,1125.7 924.5,1136.3 930.5,1146.9 936.5,1157.5 942.2,1168 947.8,1178.6 953.2,1189.2 958.4,1199.8 963.4,1210.4 968.2,1220.9 972.9,1231.5 977.3,1242.1 981.6,1252.7 985.6,1263.3 989.5,1273.9 993.1,1284.4 996.6,1295 999.9,1305.6 1002.9,1316.2 1005.8,1326.8 1008.4,1337.3 1010.9,1347.9 1013.1,1358.5 1015.1,1369.1 1017,1379.7 1018.6,1390.3 1020.1,1400.8 1021.3,1411.4 1022.3,1422 1023.1,1432.6 1023.8,1443.2 1024.2,1453.8 1024.4,1464.3 1024.4,1474.9 1024.2,1485.5 1060.4,1485.5 1060.4,1474.9 1060.3,1464.3 1060,1453.8 1059.5,1443.2 1058.8,1432.6 1057.9,1422 1056.8,1411.4 1055.5,1400.8 1054,1390.3 1052.4,1379.7 1050.5,1369.1 1048.5,1358.5 1046.2,1347.9 1043.8,1337.3 1041.2,1326.8 1038.4,1316.2 1035.4,1305.6 1032.2,1295 1028.8,1284.4 1025.2,1273.9 1021.5,1263.3 1017.5,1252.7 1013.4,1242.1 1009.1,1231.5 1004.6,1220.9 999.9,1210.4 995,1199.8 990,1189.2 984.8,1178.6 979.4,1168 973.8,1157.5 968.1,1146.9 962.3,1136.3 956.3,1125.7 950.1,1115.1 943.8,1104.5 937.4,1094 930.9,1083.4 924.2,1072.8 917.4,1062.2 910.6,1051.6 903.6,1041 896.5,1030.5 889.4,1019.9 882.2,1009.3Z" fill="#E93729"/>
</g></g>
<rect x="171.3" y="57.2" width="1004.7" height="448.1" fill="none" stroke="#151515" stroke-width="2.2"/>
<line x1="160.6" y1="505.3" x2="1177" y2="505.3" stroke="#000" stroke-width="3"/>
<rect x="169" y="538.2" width="1008.2" height="449.8" fill="none" stroke="#151515" stroke-width="2.2"/>
<line x1="160.3" y1="988" x2="1178.2" y2="988" stroke="#000" stroke-width="3"/>
<rect x="164.6" y="1021.3" width="1014.4" height="452.2" fill="none" stroke="#151515" stroke-width="2.2"/>
<line x1="158.5" y1="1473.5" x2="1180" y2="1473.5" stroke="#000" stroke-width="3"/>
<line x1="240.3" y1="57.2" x2="240.3" y2="51.2" stroke="#111" stroke-width="1.6"/>
<line x1="378.6" y1="57.2" x2="378.6" y2="51.2" stroke="#111" stroke-width="1.6"/>
<line x1="516.5" y1="57.2" x2="516.5" y2="51.2" stroke="#111" stroke-width="1.6"/>
<line x1="657.5" y1="57.2" x2="657.5" y2="51.2" stroke="#111" stroke-width="1.6"/>
<line x1="795.1" y1="57.2" x2="795.1" y2="51.2" stroke="#111" stroke-width="1.6"/>
<line x1="933.2" y1="57.2" x2="933.2" y2="51.2" stroke="#111" stroke-width="1.6"/>
<line x1="1071.1" y1="57.2" x2="1071.1" y2="51.2" stroke="#111" stroke-width="1.6"/>
<line x1="238.3" y1="538.2" x2="238.3" y2="532.2" stroke="#111" stroke-width="1.6"/>
<line x1="376.7" y1="538.2" x2="376.7" y2="532.2" stroke="#111" stroke-width="1.6"/>
<line x1="515.1" y1="538.2" x2="515.1" y2="532.2" stroke="#111" stroke-width="1.6"/>
<line x1="656.6" y1="538.2" x2="656.6" y2="532.2" stroke="#111" stroke-width="1.6"/>
<line x1="795" y1="538.2" x2="795" y2="532.2" stroke="#111" stroke-width="1.6"/>
<line x1="933.2" y1="538.2" x2="933.2" y2="532.2" stroke="#111" stroke-width="1.6"/>
<line x1="1072.1" y1="538.2" x2="1072.1" y2="532.2" stroke="#111" stroke-width="1.6"/>
<line x1="234.7" y1="1021.3" x2="234.7" y2="1015.3" stroke="#111" stroke-width="1.6"/>
<line x1="373.5" y1="1021.3" x2="373.5" y2="1015.3" stroke="#111" stroke-width="1.6"/>
<line x1="513" y1="1021.3" x2="513" y2="1015.3" stroke="#111" stroke-width="1.6"/>
<line x1="654.8" y1="1021.3" x2="654.8" y2="1015.3" stroke="#111" stroke-width="1.6"/>
<line x1="794.9" y1="1021.3" x2="794.9" y2="1015.3" stroke="#111" stroke-width="1.6"/>
<line x1="933.9" y1="1021.3" x2="933.9" y2="1015.3" stroke="#111" stroke-width="1.6"/>
<line x1="1073.7" y1="1021.3" x2="1073.7" y2="1015.3" stroke="#111" stroke-width="1.6"/>
<line x1="163.3" y1="505.3" x2="171.3" y2="505.3" stroke="#111" stroke-width="1.8"/>
<line x1="166.8" y1="455.7" x2="171.3" y2="455.7" stroke="#111" stroke-width="1.8"/>
<line x1="163.3" y1="406.1" x2="171.3" y2="406.1" stroke="#111" stroke-width="1.8"/>
<line x1="166.8" y1="356.5" x2="171.3" y2="356.5" stroke="#111" stroke-width="1.8"/>
<line x1="163.3" y1="306.9" x2="171.3" y2="306.9" stroke="#111" stroke-width="1.8"/>
<line x1="166.8" y1="257.3" x2="171.3" y2="257.3" stroke="#111" stroke-width="1.8"/>
<line x1="163.3" y1="207.7" x2="171.3" y2="207.7" stroke="#111" stroke-width="1.8"/>
<line x1="166.8" y1="158.1" x2="171.3" y2="158.1" stroke="#111" stroke-width="1.8"/>
<line x1="163.3" y1="108.5" x2="171.3" y2="108.5" stroke="#111" stroke-width="1.8"/>
<line x1="166.8" y1="58.9" x2="171.3" y2="58.9" stroke="#111" stroke-width="1.8"/>
<line x1="161" y1="988" x2="169" y2="988" stroke="#111" stroke-width="1.8"/>
<line x1="164.5" y1="938.2" x2="169" y2="938.2" stroke="#111" stroke-width="1.8"/>
<line x1="161" y1="888.4" x2="169" y2="888.4" stroke="#111" stroke-width="1.8"/>
<line x1="164.5" y1="838.6" x2="169" y2="838.6" stroke="#111" stroke-width="1.8"/>
<line x1="161" y1="788.8" x2="169" y2="788.8" stroke="#111" stroke-width="1.8"/>
<line x1="164.5" y1="738.9" x2="169" y2="738.9" stroke="#111" stroke-width="1.8"/>
<line x1="161" y1="689.1" x2="169" y2="689.1" stroke="#111" stroke-width="1.8"/>
<line x1="164.5" y1="639.3" x2="169" y2="639.3" stroke="#111" stroke-width="1.8"/>
<line x1="161" y1="589.5" x2="169" y2="589.5" stroke="#111" stroke-width="1.8"/>
<line x1="164.5" y1="539.7" x2="169" y2="539.7" stroke="#111" stroke-width="1.8"/>
<line x1="156.6" y1="1473.5" x2="164.6" y2="1473.5" stroke="#111" stroke-width="1.8"/>
<line x1="160.1" y1="1423.5" x2="164.6" y2="1423.5" stroke="#111" stroke-width="1.8"/>
<line x1="156.6" y1="1373.5" x2="164.6" y2="1373.5" stroke="#111" stroke-width="1.8"/>
<line x1="160.1" y1="1323.5" x2="164.6" y2="1323.5" stroke="#111" stroke-width="1.8"/>
<line x1="156.6" y1="1273.5" x2="164.6" y2="1273.5" stroke="#111" stroke-width="1.8"/>
<line x1="160.1" y1="1223.5" x2="164.6" y2="1223.5" stroke="#111" stroke-width="1.8"/>
<line x1="156.6" y1="1173.5" x2="164.6" y2="1173.5" stroke="#111" stroke-width="1.8"/>
<line x1="160.1" y1="1123.5" x2="164.6" y2="1123.5" stroke="#111" stroke-width="1.8"/>
<line x1="156.6" y1="1073.5" x2="164.6" y2="1073.5" stroke="#111" stroke-width="1.8"/>
<line x1="160.1" y1="1023.5" x2="164.6" y2="1023.5" stroke="#111" stroke-width="1.8"/>
<line x1="236" y1="1473.5" x2="236" y2="1486" stroke="#000" stroke-width="3"/>
<line x1="509.8" y1="1473.5" x2="509.8" y2="1486" stroke="#000" stroke-width="3"/>
<line x1="800.4" y1="1473.5" x2="800.4" y2="1486" stroke="#000" stroke-width="3"/>
<line x1="1079.3" y1="1473.5" x2="1079.3" y2="1486" stroke="#000" stroke-width="3"/>
<rect x="1211.2" y="88.7" width="57.4" height="370.3" fill="url(#cba)"/>
<rect x="1218.5" y="577" width="56.6" height="369.7" fill="url(#cbb)"/>
<rect x="1224" y="1061.4" width="53" height="367.7" fill="url(#cbc)"/>
<g font-family="'Liberation Sans', Arial, sans-serif" fill="#000">
<text x="207.5" y="37" font-size="43.7" textLength="83.2" lengthAdjust="spacingAndGlyphs">1.36</text>
<text x="467.4" y="39.1" font-size="43.5" textLength="82.7" lengthAdjust="spacingAndGlyphs">1.32</text>
<text x="765.7" y="38" font-size="43.7" textLength="83.4" lengthAdjust="spacingAndGlyphs">1.28</text>
<text x="1034.1" y="38" font-size="43.7" textLength="81.8" lengthAdjust="spacingAndGlyphs">1.24</text>
<text x="104.1" y="114.2" font-size="42.1" textLength="47.6" lengthAdjust="spacingAndGlyphs">40</text>
<text x="104.4" y="221.1" font-size="44.7" textLength="48.1" lengthAdjust="spacingAndGlyphs">30</text>
<text x="104.2" y="318.3" font-size="44.7" textLength="47.3" lengthAdjust="spacingAndGlyphs">20</text>
<text x="105" y="414.9" font-size="44.7" textLength="46.4" lengthAdjust="spacingAndGlyphs">10</text>
<text x="120.2" y="511.1" font-size="44.7" textLength="24.6" lengthAdjust="spacingAndGlyphs">0</text>
<text x="105.7" y="597.2" font-size="44.1" textLength="47.4" lengthAdjust="spacingAndGlyphs">40</text>
<text x="99.2" y="707.4" font-size="42.6" textLength="46.1" lengthAdjust="spacingAndGlyphs">30</text>
<text x="96" y="797.5" font-size="45.6" textLength="47.9" lengthAdjust="spacingAndGlyphs">20</text>
<text x="96.1" y="899.8" font-size="43.2" textLength="46.9" lengthAdjust="spacingAndGlyphs">10</text>
<text x="114.8" y="995.8" font-size="43.5" textLength="23.5" lengthAdjust="spacingAndGlyphs">0</text>
<text x="104.6" y="1077" font-size="42.6" textLength="47.7" lengthAdjust="spacingAndGlyphs" clip-path="url(#c40)">40</text>
<text x="98.2" y="1185.6" font-size="44.7" textLength="47" lengthAdjust="spacingAndGlyphs">30</text>
<text x="95.5" y="1277.5" font-size="45.4" textLength="48.8" lengthAdjust="spacingAndGlyphs">20</text>
<text x="95.5" y="1378.4" font-size="44.1" textLength="46.8" lengthAdjust="spacingAndGlyphs">10</text>
<text x="114.1" y="1475.4" font-size="44.1" textLength="22.8" lengthAdjust="spacingAndGlyphs">0</text>
<text x="203.9" y="1542.5" font-size="45.4" textLength="82.8" lengthAdjust="spacingAndGlyphs">1.36</text>
<text x="475.2" y="1541.8" font-size="43.5" textLength="81.1" lengthAdjust="spacingAndGlyphs">1.32</text>
<text x="765.8" y="1543" font-size="43.5" textLength="83.3" lengthAdjust="spacingAndGlyphs">1.28</text>
<text x="1037" y="1543.7" font-size="44.7" textLength="82.7" lengthAdjust="spacingAndGlyphs">1.24</text>
<text x="1287" y="116.1" font-size="41.8" textLength="60.6" lengthAdjust="spacingAndGlyphs">1.0</text>
<text x="1285.8" y="463.5" font-size="43.8" textLength="60" lengthAdjust="spacingAndGlyphs">0.0</text>
<text x="1287.2" y="603.6" font-size="41.2" textLength="59.4" lengthAdjust="spacingAndGlyphs">0.2</text>
<text x="1287.2" y="948.2" font-size="40" textLength="81.9" lengthAdjust="spacingAndGlyphs">0.05</text>
<text x="1295.3" y="1092.5" font-size="42.7" textLength="59.3" lengthAdjust="spacingAndGlyphs">1.0</text>
<text x="1282.7" y="1423.7" font-size="42.7" textLength="105.3" lengthAdjust="spacingAndGlyphs">0.001</text>
<text x="1052.8" y="171.8" font-size="55.5" textLength="63.9" lengthAdjust="spacingAndGlyphs">(a)</text>
<text x="1052" y="644.4" font-size="55.3" textLength="66.5" lengthAdjust="spacingAndGlyphs">(b)</text>
<text x="1061.2" y="1115" font-size="55.5" textLength="59.9" lengthAdjust="spacingAndGlyphs">(c)</text>
<text x="560.5" y="1623.6" font-size="55.7" textLength="282.2" lengthAdjust="spacingAndGlyphs">Energy (eV)</text>
<text transform="translate(48.5,425.6) rotate(-90)" font-size="55.5" textLength="274.6" lengthAdjust="spacingAndGlyphs"><tspan font-style="italic">θ</tspan> (degrees)</text>
<text transform="translate(47.6,894) rotate(-90)" font-size="56" textLength="271" lengthAdjust="spacingAndGlyphs"><tspan font-style="italic">θ</tspan> (degrees)</text>
<text transform="translate(48.6,1369) rotate(-90)" font-size="55.5" textLength="275.6" lengthAdjust="spacingAndGlyphs"><tspan font-style="italic">θ</tspan> (degrees)</text>
</g>
</svg>
</body></html>
